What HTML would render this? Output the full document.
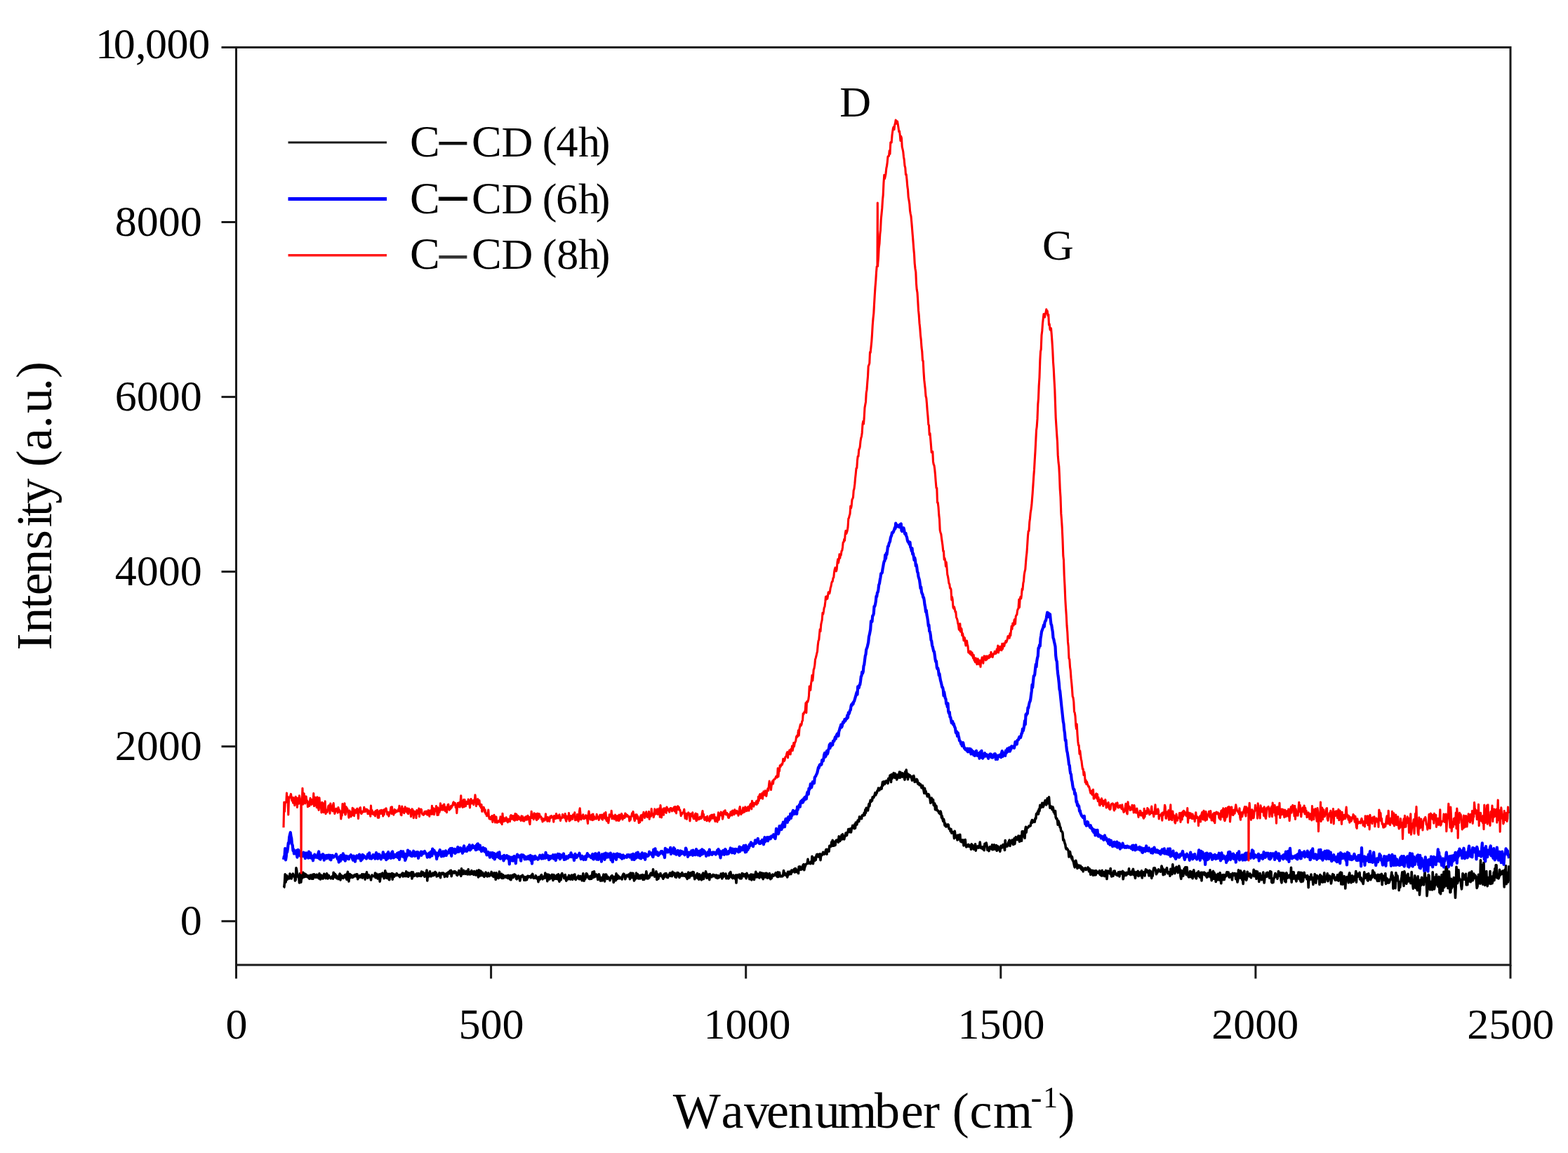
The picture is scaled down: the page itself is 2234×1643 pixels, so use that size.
<!DOCTYPE html>
<html><head><meta charset="utf-8"><title>Raman spectra</title>
<style>html,body{margin:0;padding:0;background:#fff;width:2234px;height:1643px;overflow:hidden}svg{display:block}text{font-kerning:none}</style>
</head><body>
<svg width="2234" height="1643" viewBox="0 0 2234 1643"><rect x="0" y="0" width="2234" height="1643" fill="#fff"/>
<path d="M404.0,1265.1 L404.8,1264.3 L405.5,1258.0 L406.2,1245.9 L407.0,1257.2 L407.8,1253.8 L408.5,1247.5 L409.2,1253.2 L410.0,1251.5 L410.8,1250.8 L411.5,1249.2 L412.2,1251.9 L413.0,1245.1 L413.8,1248.2 L414.5,1246.5 L415.2,1252.0 L416.0,1249.2 L416.8,1247.6 L417.5,1245.2 L418.2,1247.8 L419.0,1249.1 L419.8,1247.8 L420.5,1255.0 L421.2,1253.7 L422.0,1236.9 L422.8,1240.7 L423.5,1248.3 L424.2,1247.3 L425.0,1250.0 L425.8,1250.1 L426.5,1257.9 L427.2,1244.7 L428.0,1247.7 L428.8,1257.2 L429.5,1251.7 L430.2,1251.8 L431.0,1247.3 L431.8,1243.2 L432.5,1249.9 L433.2,1249.7 L434.0,1245.0 L434.8,1247.0 L435.5,1249.1 L436.2,1246.2 L437.0,1249.0 L437.8,1249.7 L438.5,1249.5 L439.2,1247.9 L440.0,1251.2 L440.8,1252.1 L441.5,1250.4 L442.2,1247.0 L443.0,1251.6 L443.8,1248.0 L444.5,1252.1 L445.2,1246.3 L446.0,1252.2 L446.8,1249.4 L447.5,1245.8 L448.2,1248.6 L449.0,1249.7 L449.8,1250.3 L450.5,1246.6 L451.2,1246.3 L452.0,1250.1 L452.8,1248.1 L453.5,1250.2 L454.2,1251.7 L455.0,1244.7 L455.8,1250.2 L456.5,1253.0 L457.2,1248.6 L458.0,1247.2 L458.8,1251.6 L459.5,1250.2 L460.2,1252.0 L461.0,1248.5 L461.8,1245.3 L462.5,1249.1 L463.2,1248.2 L464.0,1251.6 L464.8,1250.0 L465.5,1244.8 L466.2,1246.1 L467.0,1251.9 L467.8,1251.3 L468.5,1247.6 L469.2,1249.4 L470.0,1250.6 L470.8,1250.7 L471.5,1251.8 L472.2,1250.1 L473.0,1249.1 L473.8,1248.6 L474.5,1252.2 L475.2,1243.2 L476.0,1248.9 L476.8,1249.4 L477.5,1245.4 L478.2,1250.2 L479.0,1247.5 L479.8,1251.6 L480.5,1248.9 L481.2,1251.1 L482.0,1252.5 L482.8,1250.3 L483.5,1246.9 L484.2,1245.1 L485.0,1253.9 L485.8,1248.9 L486.5,1247.3 L487.2,1249.6 L488.0,1248.6 L488.8,1251.4 L489.5,1249.2 L490.2,1249.2 L491.0,1247.2 L491.8,1250.4 L492.5,1246.3 L493.2,1250.9 L494.0,1253.2 L494.8,1245.0 L495.5,1242.4 L496.2,1250.7 L497.0,1255.9 L497.8,1246.3 L498.5,1245.6 L499.2,1250.6 L500.0,1246.7 L500.8,1247.6 L501.5,1248.0 L502.2,1250.4 L503.0,1247.9 L503.8,1249.7 L504.5,1248.5 L505.2,1246.7 L506.0,1248.1 L506.8,1246.3 L507.5,1248.9 L508.2,1245.9 L509.0,1245.9 L509.8,1252.8 L510.5,1248.7 L511.2,1248.7 L512.0,1250.2 L512.8,1247.7 L513.5,1248.2 L514.2,1250.0 L515.0,1249.6 L515.8,1245.7 L516.5,1251.0 L517.2,1247.2 L518.0,1245.9 L518.8,1246.3 L519.5,1247.7 L520.2,1253.1 L521.0,1245.5 L521.8,1249.1 L522.5,1242.9 L523.2,1248.7 L524.0,1251.1 L524.8,1248.0 L525.5,1247.0 L526.2,1249.3 L527.0,1250.5 L527.8,1250.4 L528.5,1253.9 L529.2,1249.2 L530.0,1247.0 L530.8,1248.2 L531.5,1248.4 L532.2,1248.8 L533.0,1248.5 L533.8,1249.0 L534.5,1244.0 L535.2,1250.7 L536.0,1246.9 L536.8,1245.3 L537.5,1250.2 L538.2,1252.0 L539.0,1249.8 L539.8,1248.9 L540.5,1245.9 L541.2,1256.1 L542.0,1250.8 L542.8,1245.3 L543.5,1246.2 L544.2,1248.6 L545.0,1244.1 L545.8,1248.8 L546.5,1247.1 L547.2,1251.6 L548.0,1250.9 L548.8,1240.9 L549.5,1248.3 L550.2,1243.9 L551.0,1251.2 L551.8,1248.6 L552.5,1249.7 L553.2,1245.3 L554.0,1253.1 L554.8,1253.6 L555.5,1245.2 L556.2,1249.1 L557.0,1246.3 L557.8,1248.0 L558.5,1244.6 L559.2,1253.1 L560.0,1245.4 L560.8,1247.2 L561.5,1249.3 L562.2,1246.2 L563.0,1247.3 L563.8,1246.4 L564.5,1247.5 L565.2,1244.7 L566.0,1246.6 L566.8,1247.2 L567.5,1246.9 L568.2,1247.9 L569.0,1246.9 L569.8,1249.7 L570.5,1246.8 L571.2,1247.2 L572.0,1245.8 L572.8,1246.1 L573.5,1244.1 L574.2,1248.9 L575.0,1244.4 L575.8,1245.4 L576.5,1248.4 L577.2,1248.5 L578.0,1246.3 L578.8,1241.9 L579.5,1248.5 L580.2,1248.0 L581.0,1243.5 L581.8,1249.3 L582.5,1245.3 L583.2,1244.2 L584.0,1247.4 L584.8,1246.7 L585.5,1247.7 L586.2,1242.8 L587.0,1252.0 L587.8,1245.5 L588.5,1242.9 L589.2,1248.7 L590.0,1246.1 L590.8,1247.9 L591.5,1246.1 L592.2,1246.8 L593.0,1247.6 L593.8,1244.9 L594.5,1248.8 L595.2,1245.7 L596.0,1244.6 L596.8,1247.1 L597.5,1248.1 L598.2,1246.3 L599.0,1244.5 L599.8,1248.5 L600.5,1242.1 L601.2,1244.0 L602.0,1246.9 L602.8,1243.1 L603.5,1246.8 L604.2,1246.6 L605.0,1249.2 L605.8,1244.2 L606.5,1245.0 L607.2,1247.6 L608.0,1240.0 L608.8,1255.0 L609.5,1244.7 L610.2,1244.6 L611.0,1248.9 L611.8,1246.5 L612.5,1241.7 L613.2,1248.2 L614.0,1248.8 L614.8,1245.3 L615.5,1245.7 L616.2,1247.7 L617.0,1244.0 L617.8,1247.6 L618.5,1246.9 L619.2,1244.5 L620.0,1242.5 L620.8,1245.7 L621.5,1243.9 L622.2,1248.9 L623.0,1246.6 L623.8,1248.2 L624.5,1246.5 L625.2,1246.8 L626.0,1243.9 L626.8,1247.8 L627.5,1250.7 L628.2,1245.0 L629.0,1244.2 L629.8,1245.4 L630.5,1244.4 L631.2,1243.8 L632.0,1246.0 L632.8,1244.8 L633.5,1249.4 L634.2,1245.5 L635.0,1246.3 L635.8,1247.9 L636.5,1244.5 L637.2,1249.1 L638.0,1243.5 L638.8,1243.0 L639.5,1244.1 L640.2,1244.7 L641.0,1241.2 L641.8,1244.8 L642.5,1240.4 L643.2,1248.6 L644.0,1244.6 L644.8,1243.0 L645.5,1242.2 L646.2,1243.6 L647.0,1244.0 L647.8,1241.7 L648.5,1242.0 L649.2,1243.9 L650.0,1243.0 L650.8,1246.9 L651.5,1247.4 L652.2,1244.3 L653.0,1245.5 L653.8,1240.6 L654.5,1245.8 L655.2,1244.0 L656.0,1245.3 L656.8,1248.3 L657.5,1237.8 L658.2,1244.6 L659.0,1240.9 L659.8,1245.4 L660.5,1240.2 L661.2,1242.3 L662.0,1244.2 L662.8,1245.3 L663.5,1243.8 L664.2,1241.4 L665.0,1242.0 L665.8,1245.9 L666.5,1243.4 L667.2,1238.9 L668.0,1245.7 L668.8,1244.5 L669.5,1245.8 L670.2,1242.5 L671.0,1245.6 L671.8,1240.6 L672.5,1245.0 L673.2,1242.2 L674.0,1245.3 L674.8,1246.3 L675.5,1241.6 L676.2,1243.5 L677.0,1243.9 L677.8,1247.0 L678.5,1245.8 L679.2,1240.7 L680.0,1245.3 L680.8,1246.2 L681.5,1250.0 L682.2,1239.8 L683.0,1243.0 L683.8,1248.1 L684.5,1241.0 L685.2,1241.5 L686.0,1246.2 L686.8,1247.7 L687.5,1243.2 L688.2,1246.5 L689.0,1245.5 L689.8,1249.4 L690.5,1245.4 L691.2,1248.1 L692.0,1243.1 L692.8,1245.2 L693.5,1245.5 L694.2,1249.0 L695.0,1247.6 L695.8,1244.1 L696.5,1248.2 L697.2,1248.5 L698.0,1246.3 L698.8,1246.0 L699.5,1246.3 L700.2,1242.4 L701.0,1247.7 L701.8,1247.9 L702.5,1245.1 L703.2,1249.5 L704.0,1243.9 L704.8,1246.3 L705.5,1246.6 L706.2,1253.3 L707.0,1243.7 L707.8,1249.6 L708.5,1250.7 L709.2,1249.3 L710.0,1251.5 L710.8,1245.6 L711.5,1242.2 L712.2,1250.5 L713.0,1245.2 L713.8,1247.6 L714.5,1245.3 L715.2,1251.4 L716.0,1250.9 L716.8,1246.7 L717.5,1251.1 L718.2,1249.0 L719.0,1248.3 L719.8,1248.9 L720.5,1248.2 L721.2,1250.4 L722.0,1249.6 L722.8,1247.9 L723.5,1251.5 L724.2,1247.2 L725.0,1249.6 L725.8,1250.0 L726.5,1252.9 L727.2,1247.6 L728.0,1253.7 L728.8,1249.4 L729.5,1248.5 L730.2,1247.2 L731.0,1250.6 L731.8,1249.2 L732.5,1246.1 L733.2,1246.0 L734.0,1247.6 L734.8,1247.3 L735.5,1252.1 L736.2,1252.8 L737.0,1251.5 L737.8,1250.1 L738.5,1248.0 L739.2,1249.3 L740.0,1251.6 L740.8,1255.0 L741.5,1251.7 L742.2,1248.5 L743.0,1249.4 L743.8,1248.0 L744.5,1247.2 L745.2,1248.8 L746.0,1249.8 L746.8,1254.3 L747.5,1249.5 L748.2,1253.0 L749.0,1254.1 L749.8,1249.6 L750.5,1253.7 L751.2,1251.3 L752.0,1248.3 L752.8,1250.2 L753.5,1249.5 L754.2,1248.8 L755.0,1249.0 L755.8,1249.9 L756.5,1250.7 L757.2,1247.1 L758.0,1249.5 L758.8,1245.4 L759.5,1250.3 L760.2,1251.3 L761.0,1250.0 L761.8,1250.4 L762.5,1251.2 L763.2,1247.8 L764.0,1249.0 L764.8,1251.0 L765.5,1252.4 L766.2,1250.8 L767.0,1256.6 L767.8,1249.5 L768.5,1252.4 L769.2,1253.2 L770.0,1249.4 L770.8,1247.5 L771.5,1246.6 L772.2,1250.2 L773.0,1252.8 L773.8,1250.5 L774.5,1250.3 L775.2,1248.8 L776.0,1251.3 L776.8,1244.1 L777.5,1250.5 L778.2,1249.9 L779.0,1246.2 L779.8,1255.7 L780.5,1246.1 L781.2,1247.0 L782.0,1246.7 L782.8,1252.9 L783.5,1247.5 L784.2,1251.7 L785.0,1251.5 L785.8,1250.6 L786.5,1246.4 L787.2,1248.3 L788.0,1254.5 L788.8,1246.5 L789.5,1247.7 L790.2,1249.5 L791.0,1252.2 L791.8,1250.7 L792.5,1252.0 L793.2,1247.1 L794.0,1252.5 L794.8,1251.5 L795.5,1245.7 L796.2,1254.2 L797.0,1256.2 L797.8,1247.9 L798.5,1250.1 L799.2,1253.8 L800.0,1246.0 L800.8,1244.6 L801.5,1246.5 L802.2,1248.5 L803.0,1248.4 L803.8,1251.6 L804.5,1250.7 L805.2,1246.6 L806.0,1251.5 L806.8,1255.1 L807.5,1253.2 L808.2,1252.7 L809.0,1250.1 L809.8,1252.7 L810.5,1247.4 L811.2,1252.0 L812.0,1249.8 L812.8,1253.1 L813.5,1251.3 L814.2,1247.1 L815.0,1250.3 L815.8,1253.3 L816.5,1247.0 L817.2,1248.5 L818.0,1247.9 L818.8,1246.0 L819.5,1252.6 L820.2,1253.5 L821.0,1252.2 L821.8,1250.7 L822.5,1249.9 L823.2,1250.6 L824.0,1248.0 L824.8,1252.4 L825.5,1252.8 L826.2,1252.5 L827.0,1248.6 L827.8,1250.2 L828.5,1249.6 L829.2,1254.8 L830.0,1250.5 L830.8,1244.9 L831.5,1251.1 L832.2,1255.1 L833.0,1251.8 L833.8,1252.4 L834.5,1250.1 L835.2,1244.7 L836.0,1245.1 L836.8,1246.6 L837.5,1249.7 L838.2,1250.8 L839.0,1251.9 L839.8,1249.1 L840.5,1252.6 L841.2,1249.2 L842.0,1248.1 L842.8,1252.3 L843.5,1247.5 L844.2,1242.6 L845.0,1247.1 L845.8,1250.3 L846.5,1241.7 L847.2,1249.0 L848.0,1249.1 L848.8,1246.1 L849.5,1246.0 L850.2,1248.8 L851.0,1248.5 L851.8,1253.4 L852.5,1251.0 L853.2,1245.7 L854.0,1247.7 L854.8,1251.9 L855.5,1255.1 L856.2,1251.0 L857.0,1250.8 L857.8,1255.0 L858.5,1249.9 L859.2,1249.2 L860.0,1246.2 L860.8,1248.6 L861.5,1255.9 L862.2,1246.2 L863.0,1250.0 L863.8,1246.2 L864.5,1250.3 L865.2,1252.4 L866.0,1249.3 L866.8,1252.0 L867.5,1251.9 L868.2,1251.2 L869.0,1254.6 L869.8,1252.1 L870.5,1249.2 L871.2,1248.2 L872.0,1247.7 L872.8,1251.3 L873.5,1249.1 L874.2,1257.4 L875.0,1255.0 L875.8,1249.4 L876.5,1249.1 L877.2,1254.6 L878.0,1244.9 L878.8,1248.8 L879.5,1252.6 L880.2,1247.5 L881.0,1248.7 L881.8,1249.1 L882.5,1251.8 L883.2,1250.4 L884.0,1251.1 L884.8,1251.6 L885.5,1250.1 L886.2,1253.0 L887.0,1248.0 L887.8,1246.1 L888.5,1245.2 L889.2,1245.6 L890.0,1248.5 L890.8,1252.8 L891.5,1250.5 L892.2,1248.4 L893.0,1247.1 L893.8,1248.6 L894.5,1248.9 L895.2,1248.5 L896.0,1246.1 L896.8,1248.7 L897.5,1252.7 L898.2,1244.1 L899.0,1249.4 L899.8,1244.3 L900.5,1250.5 L901.2,1248.0 L902.0,1244.4 L902.8,1250.3 L903.5,1254.9 L904.2,1250.3 L905.0,1253.1 L905.8,1249.7 L906.5,1244.1 L907.2,1251.2 L908.0,1248.7 L908.8,1245.9 L909.5,1251.9 L910.2,1250.5 L911.0,1248.3 L911.8,1252.0 L912.5,1247.3 L913.2,1251.4 L914.0,1247.0 L914.8,1251.0 L915.5,1246.5 L916.2,1253.5 L917.0,1250.1 L917.8,1253.2 L918.5,1247.1 L919.2,1248.0 L920.0,1251.5 L920.8,1241.8 L921.5,1246.2 L922.2,1251.9 L923.0,1250.3 L923.8,1251.6 L924.5,1248.1 L925.2,1250.4 L926.0,1246.8 L926.8,1245.0 L927.5,1244.1 L928.2,1247.1 L929.0,1247.1 L929.8,1246.8 L930.5,1238.9 L931.2,1243.0 L932.0,1246.9 L932.8,1249.1 L933.5,1246.7 L934.2,1245.8 L935.0,1241.9 L935.8,1253.5 L936.5,1245.0 L937.2,1252.5 L938.0,1252.1 L938.8,1248.6 L939.5,1246.3 L940.2,1248.1 L941.0,1244.6 L941.8,1248.4 L942.5,1247.6 L943.2,1249.0 L944.0,1250.1 L944.8,1252.2 L945.5,1246.4 L946.2,1250.2 L947.0,1245.2 L947.8,1244.9 L948.5,1245.6 L949.2,1244.6 L950.0,1249.9 L950.8,1249.7 L951.5,1250.6 L952.2,1247.1 L953.0,1247.9 L953.8,1245.5 L954.5,1244.0 L955.2,1248.3 L956.0,1247.8 L956.8,1244.0 L957.5,1248.6 L958.2,1242.3 L959.0,1246.5 L959.8,1245.3 L960.5,1245.6 L961.2,1244.1 L962.0,1249.6 L962.8,1248.6 L963.5,1250.2 L964.2,1247.4 L965.0,1243.6 L965.8,1246.1 L966.5,1243.9 L967.2,1248.4 L968.0,1250.4 L968.8,1248.1 L969.5,1245.6 L970.2,1246.3 L971.0,1247.9 L971.8,1243.5 L972.5,1247.8 L973.2,1248.0 L974.0,1246.1 L974.8,1246.4 L975.5,1248.1 L976.2,1245.5 L977.0,1245.5 L977.8,1249.9 L978.5,1248.4 L979.2,1252.4 L980.0,1245.3 L980.8,1243.2 L981.5,1250.6 L982.2,1250.7 L983.0,1246.2 L983.8,1244.2 L984.5,1248.1 L985.2,1243.6 L986.0,1247.4 L986.8,1242.5 L987.5,1247.8 L988.2,1242.8 L989.0,1247.9 L989.8,1252.7 L990.5,1247.9 L991.2,1250.7 L992.0,1247.0 L992.8,1246.3 L993.5,1244.7 L994.2,1251.6 L995.0,1248.7 L995.8,1253.2 L996.5,1245.7 L997.2,1248.3 L998.0,1249.1 L998.8,1252.7 L999.5,1253.8 L1000.2,1247.1 L1001.0,1245.8 L1001.8,1244.2 L1002.5,1252.5 L1003.2,1248.6 L1004.0,1247.1 L1004.8,1248.7 L1005.5,1241.9 L1006.2,1244.2 L1007.0,1251.3 L1007.8,1249.9 L1008.5,1249.2 L1009.2,1246.1 L1010.0,1250.4 L1010.8,1253.6 L1011.5,1245.5 L1012.2,1248.8 L1013.0,1247.6 L1013.8,1249.7 L1014.5,1248.7 L1015.2,1248.3 L1016.0,1246.3 L1016.8,1248.6 L1017.5,1247.0 L1018.2,1248.2 L1019.0,1248.4 L1019.8,1250.4 L1020.5,1247.0 L1021.2,1247.7 L1022.0,1251.4 L1022.8,1247.9 L1023.5,1247.8 L1024.2,1250.8 L1025.0,1249.2 L1025.8,1248.7 L1026.5,1249.0 L1027.2,1245.1 L1028.0,1249.6 L1028.8,1251.9 L1029.5,1249.9 L1030.2,1244.2 L1031.0,1249.1 L1031.8,1245.9 L1032.5,1247.7 L1033.2,1248.6 L1034.0,1245.1 L1034.8,1251.8 L1035.5,1248.1 L1036.2,1250.3 L1037.0,1249.9 L1037.8,1251.8 L1038.5,1251.4 L1039.2,1244.2 L1040.0,1248.3 L1040.8,1242.5 L1041.5,1246.9 L1042.2,1250.0 L1043.0,1250.5 L1043.8,1251.5 L1044.5,1247.1 L1045.2,1248.9 L1046.0,1248.3 L1046.8,1251.4 L1047.5,1252.2 L1048.2,1247.1 L1049.0,1258.0 L1049.8,1248.0 L1050.5,1247.0 L1051.2,1249.6 L1052.0,1250.0 L1052.8,1249.4 L1053.5,1246.2 L1054.2,1251.8 L1055.0,1248.1 L1055.8,1252.0 L1056.5,1251.6 L1057.2,1244.6 L1058.0,1245.3 L1058.8,1245.3 L1059.5,1248.6 L1060.2,1248.1 L1061.0,1248.7 L1061.8,1245.8 L1062.5,1249.1 L1063.2,1251.7 L1064.0,1244.4 L1064.8,1247.4 L1065.5,1248.6 L1066.2,1247.6 L1067.0,1247.4 L1067.8,1252.6 L1068.5,1251.3 L1069.2,1250.2 L1070.0,1246.0 L1070.8,1253.9 L1071.5,1248.9 L1072.2,1246.4 L1073.0,1247.1 L1073.8,1246.7 L1074.5,1253.5 L1075.2,1248.5 L1076.0,1248.1 L1076.8,1242.3 L1077.5,1249.9 L1078.2,1245.2 L1079.0,1245.0 L1079.8,1249.6 L1080.5,1245.7 L1081.2,1250.2 L1082.0,1250.9 L1082.8,1243.3 L1083.5,1247.6 L1084.2,1243.8 L1085.0,1247.8 L1085.8,1250.4 L1086.5,1244.4 L1087.2,1252.7 L1088.0,1247.2 L1088.8,1244.9 L1089.5,1247.6 L1090.2,1250.0 L1091.0,1244.4 L1091.8,1248.0 L1092.5,1244.4 L1093.2,1251.1 L1094.0,1248.4 L1094.8,1246.8 L1095.5,1250.7 L1096.2,1244.6 L1097.0,1246.9 L1097.8,1252.8 L1098.5,1247.6 L1099.2,1251.5 L1100.0,1248.5 L1100.8,1246.1 L1101.5,1247.3 L1102.2,1248.1 L1103.0,1246.8 L1103.8,1245.7 L1104.5,1245.7 L1105.2,1243.8 L1106.0,1247.9 L1106.8,1248.6 L1107.5,1249.4 L1108.2,1242.7 L1109.0,1249.4 L1109.8,1247.1 L1110.5,1243.3 L1111.2,1247.2 L1112.0,1248.9 L1112.8,1248.1 L1113.5,1248.5 L1114.2,1248.9 L1115.0,1248.6 L1115.8,1246.1 L1116.5,1240.6 L1117.2,1243.9 L1118.0,1246.7 L1118.8,1244.4 L1119.5,1247.2 L1120.2,1247.4 L1121.0,1245.3 L1121.8,1249.9 L1122.5,1242.2 L1123.2,1247.0 L1124.0,1243.1 L1124.8,1242.1 L1125.5,1245.4 L1126.2,1242.0 L1127.0,1245.6 L1127.8,1240.0 L1128.5,1242.9 L1129.2,1240.3 L1130.0,1241.6 L1130.8,1240.9 L1131.5,1238.6 L1132.2,1242.9 L1133.0,1237.6 L1133.8,1237.9 L1134.5,1242.5 L1135.2,1242.3 L1136.0,1241.1 L1136.8,1239.9 L1137.5,1244.5 L1138.2,1235.0 L1139.0,1235.8 L1139.8,1234.8 L1140.5,1239.3 L1141.2,1237.3 L1142.0,1239.0 L1142.8,1238.2 L1143.5,1234.6 L1144.2,1232.6 L1145.0,1231.7 L1145.8,1239.7 L1146.5,1236.0 L1147.2,1234.5 L1148.0,1231.6 L1148.8,1231.5 L1149.5,1230.7 L1150.2,1230.3 L1151.0,1224.4 L1151.8,1230.1 L1152.5,1228.8 L1153.2,1230.1 L1154.0,1229.4 L1154.8,1230.7 L1155.5,1227.9 L1156.2,1229.6 L1157.0,1220.3 L1157.8,1223.7 L1158.5,1230.7 L1159.2,1222.4 L1160.0,1224.4 L1160.8,1226.5 L1161.5,1221.9 L1162.2,1225.6 L1163.0,1219.4 L1163.8,1217.6 L1164.5,1218.6 L1165.2,1217.3 L1166.0,1221.0 L1166.8,1219.7 L1167.5,1220.9 L1168.2,1216.7 L1169.0,1225.6 L1169.8,1218.1 L1170.5,1217.6 L1171.2,1218.4 L1172.0,1216.0 L1172.8,1214.4 L1173.5,1215.7 L1174.2,1217.3 L1175.0,1216.0 L1175.8,1216.2 L1176.5,1211.6 L1177.2,1210.4 L1178.0,1217.2 L1178.8,1210.6 L1179.5,1211.9 L1180.2,1212.0 L1181.0,1213.2 L1181.8,1205.2 L1182.5,1206.9 L1183.2,1206.4 L1184.0,1206.1 L1184.8,1199.9 L1185.5,1205.4 L1186.2,1197.4 L1187.0,1205.2 L1187.8,1205.2 L1188.5,1204.7 L1189.2,1199.3 L1190.0,1204.4 L1190.8,1198.9 L1191.5,1197.3 L1192.2,1197.3 L1193.0,1197.0 L1193.8,1199.1 L1194.5,1200.2 L1195.2,1191.8 L1196.0,1195.3 L1196.8,1198.4 L1197.5,1195.9 L1198.2,1196.1 L1199.0,1190.1 L1199.8,1196.0 L1200.5,1188.7 L1201.2,1192.6 L1202.0,1195.1 L1202.8,1195.8 L1203.5,1191.5 L1204.2,1191.8 L1205.0,1187.2 L1205.8,1186.8 L1206.5,1190.5 L1207.2,1186.7 L1208.0,1185.7 L1208.8,1181.6 L1209.5,1185.0 L1210.2,1185.6 L1211.0,1181.0 L1211.8,1181.1 L1212.5,1185.9 L1213.2,1181.4 L1214.0,1179.4 L1214.8,1176.4 L1215.5,1177.0 L1216.2,1177.2 L1217.0,1180.7 L1217.8,1174.6 L1218.5,1180.2 L1219.2,1172.1 L1220.0,1172.8 L1220.8,1175.1 L1221.5,1171.4 L1222.2,1169.0 L1223.0,1169.9 L1223.8,1170.6 L1224.5,1163.9 L1225.2,1166.9 L1226.0,1166.3 L1226.8,1164.6 L1227.5,1166.6 L1228.2,1162.1 L1229.0,1161.5 L1229.8,1161.4 L1230.5,1162.1 L1231.2,1158.3 L1232.0,1161.6 L1232.8,1153.9 L1233.5,1158.4 L1234.2,1151.3 L1235.0,1151.8 L1235.8,1151.8 L1236.5,1154.9 L1237.2,1150.4 L1238.0,1145.5 L1238.8,1148.7 L1239.5,1143.3 L1240.2,1140.4 L1241.0,1142.3 L1241.8,1140.0 L1242.5,1141.0 L1243.2,1135.8 L1244.0,1137.0 L1244.8,1136.5 L1245.5,1134.4 L1246.2,1132.5 L1247.0,1129.7 L1247.8,1132.9 L1248.5,1130.0 L1249.2,1130.0 L1250.0,1126.8 L1250.8,1126.8 L1251.5,1123.1 L1252.2,1125.1 L1253.0,1126.0 L1253.8,1123.3 L1254.5,1124.5 L1255.2,1122.1 L1256.0,1124.1 L1256.8,1119.1 L1257.5,1114.4 L1258.2,1119.1 L1259.0,1116.7 L1259.8,1113.7 L1260.5,1117.3 L1261.2,1115.5 L1262.0,1115.3 L1262.8,1112.6 L1263.5,1113.3 L1264.2,1112.8 L1265.0,1116.3 L1265.8,1109.2 L1266.5,1110.4 L1267.2,1110.9 L1268.0,1104.9 L1268.8,1104.7 L1269.5,1114.4 L1270.2,1103.5 L1271.0,1109.4 L1271.8,1105.3 L1272.5,1105.2 L1273.2,1101.6 L1274.0,1104.2 L1274.8,1108.5 L1275.5,1102.4 L1276.2,1107.5 L1277.0,1106.5 L1277.8,1110.9 L1278.5,1104.0 L1279.2,1108.4 L1280.0,1107.2 L1280.8,1103.8 L1281.5,1100.0 L1282.2,1108.3 L1283.0,1100.5 L1283.8,1102.8 L1284.5,1106.4 L1285.2,1107.0 L1286.0,1101.8 L1286.8,1104.0 L1287.5,1103.4 L1288.2,1107.4 L1289.0,1111.1 L1289.8,1099.6 L1290.5,1107.1 L1291.2,1097.1 L1292.0,1105.0 L1292.8,1102.2 L1293.5,1110.7 L1294.2,1106.0 L1295.0,1103.9 L1295.8,1104.7 L1296.5,1104.8 L1297.2,1107.1 L1298.0,1106.5 L1298.8,1109.2 L1299.5,1112.1 L1300.2,1110.4 L1301.0,1105.9 L1301.8,1105.5 L1302.5,1108.6 L1303.2,1114.2 L1304.0,1111.2 L1304.8,1111.0 L1305.5,1113.8 L1306.2,1110.4 L1307.0,1111.8 L1307.8,1117.0 L1308.5,1115.5 L1309.2,1115.9 L1310.0,1118.7 L1310.8,1117.1 L1311.5,1117.6 L1312.2,1119.0 L1313.0,1122.7 L1313.8,1122.1 L1314.5,1119.5 L1315.2,1122.8 L1316.0,1126.2 L1316.8,1130.4 L1317.5,1123.2 L1318.2,1128.1 L1319.0,1127.4 L1319.8,1131.3 L1320.5,1131.3 L1321.2,1135.0 L1322.0,1133.5 L1322.8,1131.7 L1323.5,1132.9 L1324.2,1136.6 L1325.0,1137.7 L1325.8,1144.3 L1326.5,1143.6 L1327.2,1137.1 L1328.0,1142.5 L1328.8,1139.2 L1329.5,1139.6 L1330.2,1147.3 L1331.0,1148.1 L1331.8,1145.1 L1332.5,1153.6 L1333.2,1147.8 L1334.0,1148.5 L1334.8,1154.7 L1335.5,1154.8 L1336.2,1155.0 L1337.0,1156.4 L1337.8,1158.4 L1338.5,1158.6 L1339.2,1159.6 L1340.0,1156.1 L1340.8,1158.7 L1341.5,1165.1 L1342.2,1162.7 L1343.0,1167.3 L1343.8,1170.3 L1344.5,1167.2 L1345.2,1170.1 L1346.0,1176.1 L1346.8,1173.5 L1347.5,1177.8 L1348.2,1178.0 L1349.0,1177.1 L1349.8,1175.8 L1350.5,1174.9 L1351.2,1175.3 L1352.0,1180.6 L1352.8,1181.6 L1353.5,1180.8 L1354.2,1184.6 L1355.0,1181.6 L1355.8,1187.1 L1356.5,1185.0 L1357.2,1185.6 L1358.0,1186.5 L1358.8,1187.0 L1359.5,1194.7 L1360.2,1184.3 L1361.0,1189.9 L1361.8,1193.5 L1362.5,1192.8 L1363.2,1190.8 L1364.0,1197.0 L1364.8,1190.1 L1365.5,1190.2 L1366.2,1196.0 L1367.0,1191.2 L1367.8,1189.3 L1368.5,1198.9 L1369.2,1199.2 L1370.0,1199.8 L1370.8,1197.1 L1371.5,1199.5 L1372.2,1197.0 L1373.0,1204.9 L1373.8,1202.9 L1374.5,1203.3 L1375.2,1196.5 L1376.0,1204.5 L1376.8,1206.8 L1377.5,1206.5 L1378.2,1205.8 L1379.0,1204.0 L1379.8,1203.4 L1380.5,1206.3 L1381.2,1206.0 L1382.0,1205.9 L1382.8,1204.7 L1383.5,1210.3 L1384.2,1202.7 L1385.0,1205.9 L1385.8,1204.5 L1386.5,1209.0 L1387.2,1210.1 L1388.0,1209.7 L1388.8,1208.5 L1389.5,1202.7 L1390.2,1212.2 L1391.0,1208.1 L1391.8,1206.4 L1392.5,1206.9 L1393.2,1205.9 L1394.0,1208.1 L1394.8,1207.9 L1395.5,1206.1 L1396.2,1200.1 L1397.0,1207.1 L1397.8,1208.6 L1398.5,1208.8 L1399.2,1207.0 L1400.0,1208.7 L1400.8,1210.3 L1401.5,1206.2 L1402.2,1211.6 L1403.0,1202.3 L1403.8,1204.2 L1404.5,1205.2 L1405.2,1201.1 L1406.0,1205.0 L1406.8,1211.2 L1407.5,1211.2 L1408.2,1208.1 L1409.0,1212.6 L1409.8,1208.6 L1410.5,1206.6 L1411.2,1208.6 L1412.0,1207.6 L1412.8,1210.0 L1413.5,1203.9 L1414.2,1210.7 L1415.0,1206.7 L1415.8,1210.3 L1416.5,1203.8 L1417.2,1206.8 L1418.0,1208.2 L1418.8,1210.4 L1419.5,1204.5 L1420.2,1212.3 L1421.0,1209.0 L1421.8,1206.1 L1422.5,1210.7 L1423.2,1207.6 L1424.0,1210.3 L1424.8,1213.3 L1425.5,1208.9 L1426.2,1205.2 L1427.0,1205.3 L1427.8,1207.8 L1428.5,1206.8 L1429.2,1203.5 L1430.0,1203.7 L1430.8,1207.1 L1431.5,1211.5 L1432.2,1197.5 L1433.0,1206.5 L1433.8,1203.6 L1434.5,1206.0 L1435.2,1206.0 L1436.0,1203.4 L1436.8,1200.2 L1437.5,1198.8 L1438.2,1197.2 L1439.0,1205.4 L1439.8,1201.1 L1440.5,1199.9 L1441.2,1200.2 L1442.0,1197.0 L1442.8,1201.1 L1443.5,1203.5 L1444.2,1202.7 L1445.0,1194.9 L1445.8,1202.6 L1446.5,1196.3 L1447.2,1192.8 L1448.0,1194.2 L1448.8,1194.5 L1449.5,1196.6 L1450.2,1193.2 L1451.0,1191.2 L1451.8,1194.0 L1452.5,1199.3 L1453.2,1191.4 L1454.0,1193.8 L1454.8,1192.0 L1455.5,1198.3 L1456.2,1184.9 L1457.0,1192.2 L1457.8,1184.8 L1458.5,1185.8 L1459.2,1186.2 L1460.0,1194.3 L1460.8,1182.4 L1461.5,1178.3 L1462.2,1186.1 L1463.0,1179.2 L1463.8,1179.9 L1464.5,1179.4 L1465.2,1178.8 L1466.0,1177.0 L1466.8,1177.2 L1467.5,1176.5 L1468.2,1176.8 L1469.0,1172.2 L1469.8,1170.3 L1470.5,1168.5 L1471.2,1172.1 L1472.0,1169.3 L1472.8,1170.0 L1473.5,1169.1 L1474.2,1171.3 L1475.0,1166.1 L1475.8,1166.5 L1476.5,1159.9 L1477.2,1159.0 L1478.0,1159.9 L1478.8,1156.1 L1479.5,1160.1 L1480.2,1153.1 L1481.0,1155.7 L1481.8,1147.4 L1482.5,1149.9 L1483.2,1150.7 L1484.0,1149.7 L1484.8,1144.3 L1485.5,1148.5 L1486.2,1149.8 L1487.0,1148.0 L1487.8,1143.5 L1488.5,1142.9 L1489.2,1140.6 L1490.0,1145.1 L1490.8,1146.9 L1491.5,1141.2 L1492.2,1137.8 L1493.0,1143.1 L1493.8,1144.8 L1494.5,1135.9 L1495.2,1144.6 L1496.0,1151.2 L1496.8,1148.7 L1497.5,1149.2 L1498.2,1150.3 L1499.0,1153.6 L1499.8,1149.7 L1500.5,1151.7 L1501.2,1156.9 L1502.0,1155.6 L1502.8,1159.9 L1503.5,1155.5 L1504.2,1164.6 L1505.0,1166.7 L1505.8,1166.4 L1506.5,1168.9 L1507.2,1175.2 L1508.0,1169.9 L1508.8,1172.7 L1509.5,1174.5 L1510.2,1178.6 L1511.0,1179.2 L1511.8,1184.3 L1512.5,1184.7 L1513.2,1184.9 L1514.0,1187.1 L1514.8,1197.2 L1515.5,1196.2 L1516.2,1198.2 L1517.0,1201.4 L1517.8,1203.5 L1518.5,1208.2 L1519.2,1209.9 L1520.0,1208.8 L1520.8,1210.1 L1521.5,1211.1 L1522.2,1212.3 L1523.0,1221.0 L1523.8,1215.7 L1524.5,1213.8 L1525.2,1218.1 L1526.0,1219.4 L1526.8,1223.5 L1527.5,1221.1 L1528.2,1226.0 L1529.0,1226.5 L1529.8,1229.8 L1530.5,1233.2 L1531.2,1235.9 L1532.0,1232.6 L1532.8,1226.3 L1533.5,1229.2 L1534.2,1231.7 L1535.0,1237.4 L1535.8,1234.2 L1536.5,1236.3 L1537.2,1233.0 L1538.0,1235.7 L1538.8,1236.6 L1539.5,1233.8 L1540.2,1237.7 L1541.0,1239.0 L1541.8,1236.0 L1542.5,1239.7 L1543.2,1241.8 L1544.0,1237.8 L1544.8,1238.0 L1545.5,1237.5 L1546.2,1237.0 L1547.0,1239.5 L1547.8,1238.2 L1548.5,1238.8 L1549.2,1237.9 L1550.0,1236.0 L1550.8,1238.0 L1551.5,1241.8 L1552.2,1237.9 L1553.0,1239.6 L1553.8,1246.3 L1554.5,1245.0 L1555.2,1240.2 L1556.0,1244.0 L1556.8,1240.6 L1557.5,1247.2 L1558.2,1241.1 L1559.0,1243.1 L1559.8,1246.8 L1560.5,1240.7 L1561.2,1246.8 L1562.0,1240.9 L1562.8,1244.0 L1563.5,1242.5 L1564.2,1243.2 L1565.0,1244.0 L1565.8,1243.4 L1566.5,1240.8 L1567.2,1246.2 L1568.0,1245.8 L1568.8,1247.5 L1569.5,1247.9 L1570.2,1240.2 L1571.0,1247.7 L1571.8,1247.8 L1572.5,1242.7 L1573.2,1247.2 L1574.0,1248.5 L1574.8,1242.8 L1575.5,1240.5 L1576.2,1243.4 L1577.0,1252.5 L1577.8,1245.2 L1578.5,1241.1 L1579.2,1243.9 L1580.0,1241.8 L1580.8,1243.6 L1581.5,1245.1 L1582.2,1237.5 L1583.0,1245.9 L1583.8,1249.0 L1584.5,1244.4 L1585.2,1243.9 L1586.0,1248.2 L1586.8,1241.4 L1587.5,1241.5 L1588.2,1241.1 L1589.0,1244.7 L1589.8,1246.3 L1590.5,1244.9 L1591.2,1246.8 L1592.0,1247.6 L1592.8,1246.7 L1593.5,1242.9 L1594.2,1244.5 L1595.0,1248.9 L1595.8,1242.2 L1596.5,1244.5 L1597.2,1244.1 L1598.0,1244.8 L1598.8,1242.1 L1599.5,1241.3 L1600.2,1252.8 L1601.0,1248.1 L1601.8,1243.2 L1602.5,1245.1 L1603.2,1247.3 L1604.0,1244.3 L1604.8,1247.1 L1605.5,1243.4 L1606.2,1244.2 L1607.0,1245.0 L1607.8,1243.9 L1608.5,1237.9 L1609.2,1245.3 L1610.0,1246.0 L1610.8,1246.6 L1611.5,1242.2 L1612.2,1246.1 L1613.0,1245.7 L1613.8,1239.8 L1614.5,1238.5 L1615.2,1246.4 L1616.0,1242.1 L1616.8,1248.0 L1617.5,1251.3 L1618.2,1243.2 L1619.0,1242.8 L1619.8,1244.8 L1620.5,1246.9 L1621.2,1241.4 L1622.0,1248.5 L1622.8,1247.8 L1623.5,1246.7 L1624.2,1243.0 L1625.0,1247.5 L1625.8,1247.2 L1626.5,1240.8 L1627.2,1251.0 L1628.0,1243.6 L1628.8,1245.6 L1629.5,1242.8 L1630.2,1245.6 L1631.0,1248.0 L1631.8,1241.7 L1632.5,1238.9 L1633.2,1242.7 L1634.0,1239.9 L1634.8,1241.5 L1635.5,1243.5 L1636.2,1243.6 L1637.0,1247.9 L1637.8,1240.2 L1638.5,1244.6 L1639.2,1241.6 L1640.0,1247.7 L1640.8,1251.4 L1641.5,1243.9 L1642.2,1248.4 L1643.0,1240.9 L1643.8,1237.1 L1644.5,1238.1 L1645.2,1236.9 L1646.0,1238.8 L1646.8,1241.1 L1647.5,1245.7 L1648.2,1244.1 L1649.0,1243.2 L1649.8,1240.0 L1650.5,1238.8 L1651.2,1241.3 L1652.0,1241.6 L1652.8,1241.9 L1653.5,1242.2 L1654.2,1240.4 L1655.0,1234.0 L1655.8,1236.7 L1656.5,1237.7 L1657.2,1246.6 L1658.0,1239.0 L1658.8,1242.9 L1659.5,1245.8 L1660.2,1241.7 L1661.0,1239.1 L1661.8,1239.5 L1662.5,1236.8 L1663.2,1241.7 L1664.0,1244.7 L1664.8,1242.7 L1665.5,1243.5 L1666.2,1243.3 L1667.0,1248.2 L1667.8,1238.4 L1668.5,1241.4 L1669.2,1243.5 L1670.0,1245.6 L1670.8,1231.9 L1671.5,1239.1 L1672.2,1240.4 L1673.0,1237.3 L1673.8,1244.6 L1674.5,1242.2 L1675.2,1240.0 L1676.0,1235.3 L1676.8,1236.6 L1677.5,1238.0 L1678.2,1243.6 L1679.0,1237.2 L1679.8,1234.0 L1680.5,1236.5 L1681.2,1239.9 L1682.0,1248.9 L1682.8,1252.3 L1683.5,1240.6 L1684.2,1246.4 L1685.0,1248.3 L1685.8,1248.0 L1686.5,1242.5 L1687.2,1237.8 L1688.0,1241.2 L1688.8,1235.7 L1689.5,1244.3 L1690.2,1246.6 L1691.0,1235.8 L1691.8,1243.5 L1692.5,1245.0 L1693.2,1249.1 L1694.0,1249.8 L1694.8,1247.5 L1695.5,1241.6 L1696.2,1243.1 L1697.0,1249.8 L1697.8,1242.4 L1698.5,1244.9 L1699.2,1251.8 L1700.0,1246.0 L1700.8,1239.9 L1701.5,1244.6 L1702.2,1248.6 L1703.0,1245.3 L1703.8,1251.2 L1704.5,1251.8 L1705.2,1243.8 L1706.0,1244.5 L1706.8,1246.3 L1707.5,1241.7 L1708.2,1248.5 L1709.0,1246.2 L1709.8,1250.3 L1710.5,1244.5 L1711.2,1243.3 L1712.0,1254.9 L1712.8,1243.3 L1713.5,1244.6 L1714.2,1244.0 L1715.0,1245.8 L1715.8,1243.2 L1716.5,1247.0 L1717.2,1244.2 L1718.0,1245.4 L1718.8,1248.7 L1719.5,1250.2 L1720.2,1249.2 L1721.0,1244.1 L1721.8,1249.0 L1722.5,1246.8 L1723.2,1246.8 L1724.0,1239.9 L1724.8,1250.2 L1725.5,1246.7 L1726.2,1254.7 L1727.0,1250.1 L1727.8,1242.5 L1728.5,1241.4 L1729.2,1252.3 L1730.0,1243.6 L1730.8,1250.4 L1731.5,1246.1 L1732.2,1256.5 L1733.0,1247.8 L1733.8,1254.0 L1734.5,1253.2 L1735.2,1245.4 L1736.0,1246.0 L1736.8,1253.9 L1737.5,1247.5 L1738.2,1243.7 L1739.0,1252.8 L1739.8,1258.8 L1740.5,1247.4 L1741.2,1253.7 L1742.0,1246.9 L1742.8,1253.6 L1743.5,1246.6 L1744.2,1253.5 L1745.0,1250.1 L1745.8,1246.9 L1746.5,1248.8 L1747.2,1245.4 L1748.0,1242.8 L1748.8,1243.1 L1749.5,1247.5 L1750.2,1243.1 L1751.0,1249.8 L1751.8,1250.2 L1752.5,1249.9 L1753.2,1245.7 L1754.0,1248.1 L1754.8,1247.8 L1755.5,1253.8 L1756.2,1244.3 L1757.0,1246.2 L1757.8,1246.9 L1758.5,1247.3 L1759.2,1244.6 L1760.0,1245.2 L1760.8,1252.5 L1761.5,1245.1 L1762.2,1252.0 L1763.0,1257.0 L1763.8,1253.7 L1764.5,1239.9 L1765.2,1251.4 L1766.0,1250.1 L1766.8,1250.4 L1767.5,1240.7 L1768.2,1251.4 L1769.0,1243.1 L1769.8,1253.8 L1770.5,1252.8 L1771.2,1259.5 L1772.0,1246.3 L1772.8,1241.2 L1773.5,1252.7 L1774.2,1252.0 L1775.0,1246.3 L1775.8,1254.2 L1776.5,1251.1 L1777.2,1242.2 L1778.0,1246.5 L1778.8,1246.0 L1779.5,1247.6 L1780.2,1248.9 L1781.0,1244.9 L1781.8,1247.2 L1782.5,1250.7 L1783.2,1247.7 L1784.0,1246.9 L1784.8,1246.7 L1785.5,1247.6 L1786.2,1239.4 L1787.0,1248.8 L1787.8,1243.4 L1788.5,1248.6 L1789.2,1241.4 L1790.0,1252.3 L1790.8,1249.2 L1791.5,1242.0 L1792.2,1249.3 L1793.0,1244.7 L1793.8,1256.4 L1794.5,1250.4 L1795.2,1244.6 L1796.0,1249.3 L1796.8,1248.1 L1797.5,1253.7 L1798.2,1249.9 L1799.0,1250.6 L1799.8,1243.1 L1800.5,1252.0 L1801.2,1258.0 L1802.0,1251.3 L1802.8,1248.2 L1803.5,1249.1 L1804.2,1244.0 L1805.0,1249.3 L1805.8,1243.3 L1806.5,1248.6 L1807.2,1246.7 L1808.0,1244.6 L1808.8,1251.2 L1809.5,1241.6 L1810.2,1248.3 L1811.0,1242.4 L1811.8,1257.1 L1812.5,1257.8 L1813.2,1252.6 L1814.0,1257.5 L1814.8,1251.4 L1815.5,1251.2 L1816.2,1246.7 L1817.0,1244.5 L1817.8,1249.3 L1818.5,1246.3 L1819.2,1246.7 L1820.0,1252.2 L1820.8,1248.2 L1821.5,1241.5 L1822.2,1247.9 L1823.0,1245.3 L1823.8,1247.5 L1824.5,1243.8 L1825.2,1254.6 L1826.0,1257.9 L1826.8,1243.8 L1827.5,1252.1 L1828.2,1251.9 L1829.0,1244.0 L1829.8,1249.6 L1830.5,1255.8 L1831.2,1253.2 L1832.0,1256.9 L1832.8,1243.7 L1833.5,1245.7 L1834.2,1250.7 L1835.0,1251.0 L1835.8,1249.4 L1836.5,1247.5 L1837.2,1247.4 L1838.0,1246.5 L1838.8,1251.6 L1839.5,1236.3 L1840.2,1257.1 L1841.0,1247.0 L1841.8,1242.7 L1842.5,1252.1 L1843.2,1242.9 L1844.0,1251.4 L1844.8,1247.7 L1845.5,1252.5 L1846.2,1253.4 L1847.0,1255.9 L1847.8,1247.3 L1848.5,1248.3 L1849.2,1249.7 L1850.0,1243.0 L1850.8,1252.7 L1851.5,1250.5 L1852.2,1243.4 L1853.0,1255.7 L1853.8,1256.5 L1854.5,1243.6 L1855.2,1252.7 L1856.0,1256.0 L1856.8,1254.1 L1857.5,1245.3 L1858.2,1243.4 L1859.0,1249.5 L1859.8,1247.7 L1860.5,1250.1 L1861.2,1249.7 L1862.0,1252.7 L1862.8,1247.5 L1863.5,1249.5 L1864.2,1264.6 L1865.0,1249.7 L1865.8,1253.9 L1866.5,1251.7 L1867.2,1251.4 L1868.0,1246.0 L1868.8,1253.0 L1869.5,1250.2 L1870.2,1254.4 L1871.0,1260.4 L1871.8,1251.4 L1872.5,1254.2 L1873.2,1245.6 L1874.0,1251.1 L1874.8,1258.1 L1875.5,1250.3 L1876.2,1247.5 L1877.0,1251.7 L1877.8,1249.8 L1878.5,1249.5 L1879.2,1248.9 L1880.0,1260.4 L1880.8,1246.5 L1881.5,1248.8 L1882.2,1248.0 L1883.0,1256.8 L1883.8,1249.5 L1884.5,1257.2 L1885.2,1251.7 L1886.0,1250.8 L1886.8,1243.8 L1887.5,1256.8 L1888.2,1253.5 L1889.0,1252.9 L1889.8,1250.4 L1890.5,1248.9 L1891.2,1244.8 L1892.0,1255.6 L1892.8,1252.3 L1893.5,1249.3 L1894.2,1248.0 L1895.0,1251.6 L1895.8,1250.6 L1896.5,1259.0 L1897.2,1254.8 L1898.0,1248.2 L1898.8,1245.7 L1899.5,1249.9 L1900.2,1246.6 L1901.0,1251.5 L1901.8,1253.1 L1902.5,1254.2 L1903.2,1253.1 L1904.0,1250.2 L1904.8,1254.0 L1905.5,1246.8 L1906.2,1250.7 L1907.0,1255.1 L1907.8,1252.5 L1908.5,1244.9 L1909.2,1245.5 L1910.0,1243.2 L1910.8,1259.9 L1911.5,1243.5 L1912.2,1250.4 L1913.0,1260.1 L1913.8,1256.4 L1914.5,1257.5 L1915.2,1248.6 L1916.0,1254.7 L1916.8,1266.0 L1917.5,1250.9 L1918.2,1253.1 L1919.0,1249.5 L1919.8,1250.9 L1920.5,1252.8 L1921.2,1257.8 L1922.0,1246.5 L1922.8,1243.9 L1923.5,1251.1 L1924.2,1251.9 L1925.0,1257.8 L1925.8,1254.4 L1926.5,1247.8 L1927.2,1253.6 L1928.0,1256.3 L1928.8,1252.2 L1929.5,1249.1 L1930.2,1254.1 L1931.0,1249.0 L1931.8,1241.5 L1932.5,1257.2 L1933.2,1244.3 L1934.0,1249.0 L1934.8,1249.1 L1935.5,1248.9 L1936.2,1249.2 L1937.0,1243.4 L1937.8,1253.1 L1938.5,1250.6 L1939.2,1250.7 L1940.0,1255.7 L1940.8,1255.9 L1941.5,1257.0 L1942.2,1259.5 L1943.0,1252.6 L1943.8,1242.8 L1944.5,1251.4 L1945.2,1250.4 L1946.0,1250.6 L1946.8,1247.3 L1947.5,1245.9 L1948.2,1254.2 L1949.0,1255.0 L1949.8,1244.7 L1950.5,1252.9 L1951.2,1249.4 L1952.0,1248.3 L1952.8,1253.6 L1953.5,1249.9 L1954.2,1247.4 L1955.0,1250.4 L1955.8,1240.3 L1956.5,1247.2 L1957.2,1247.9 L1958.0,1243.2 L1958.8,1251.0 L1959.5,1251.4 L1960.2,1247.1 L1961.0,1249.3 L1961.8,1253.5 L1962.5,1255.4 L1963.2,1246.4 L1964.0,1251.9 L1964.8,1255.4 L1965.5,1250.1 L1966.2,1246.5 L1967.0,1246.6 L1967.8,1248.8 L1968.5,1245.4 L1969.2,1260.6 L1970.0,1247.8 L1970.8,1252.6 L1971.5,1251.8 L1972.2,1254.1 L1973.0,1249.1 L1973.8,1244.7 L1974.5,1259.4 L1975.2,1251.0 L1976.0,1252.1 L1976.8,1252.6 L1977.5,1258.0 L1978.2,1255.7 L1979.0,1257.9 L1979.8,1256.3 L1980.5,1253.1 L1981.2,1253.7 L1982.0,1248.9 L1982.8,1243.0 L1983.5,1251.7 L1984.2,1247.7 L1985.0,1266.1 L1985.8,1261.4 L1986.5,1259.8 L1987.2,1250.5 L1988.0,1265.7 L1988.8,1243.7 L1989.5,1246.6 L1990.2,1249.2 L1991.0,1248.0 L1991.8,1255.4 L1992.5,1256.0 L1993.2,1268.6 L1994.0,1262.3 L1994.8,1264.4 L1995.5,1258.5 L1996.2,1254.2 L1997.0,1249.8 L1997.8,1242.9 L1998.5,1248.3 L1999.2,1252.6 L2000.0,1262.4 L2000.8,1241.7 L2001.5,1244.6 L2002.2,1258.2 L2003.0,1247.5 L2003.8,1259.3 L2004.5,1253.1 L2005.2,1250.3 L2006.0,1245.4 L2006.8,1256.0 L2007.5,1250.7 L2008.2,1251.7 L2009.0,1251.6 L2009.8,1258.6 L2010.5,1258.4 L2011.2,1242.6 L2012.0,1255.9 L2012.8,1260.7 L2013.5,1266.2 L2014.2,1264.0 L2015.0,1259.2 L2015.8,1247.8 L2016.5,1251.0 L2017.2,1265.4 L2018.0,1251.7 L2018.8,1266.4 L2019.5,1268.6 L2020.2,1248.8 L2021.0,1261.6 L2021.8,1256.9 L2022.5,1275.2 L2023.2,1265.1 L2024.0,1253.7 L2024.8,1261.5 L2025.5,1250.3 L2026.2,1256.9 L2027.0,1260.0 L2027.8,1259.5 L2028.5,1260.9 L2029.2,1250.6 L2030.0,1242.6 L2030.8,1255.4 L2031.5,1250.9 L2032.2,1252.6 L2033.0,1276.7 L2033.8,1268.5 L2034.5,1257.1 L2035.2,1246.5 L2036.0,1247.7 L2036.8,1261.8 L2037.5,1267.8 L2038.2,1256.3 L2039.0,1259.9 L2039.8,1261.0 L2040.5,1267.9 L2041.2,1242.9 L2042.0,1260.2 L2042.8,1262.4 L2043.5,1267.0 L2044.2,1262.3 L2045.0,1249.6 L2045.8,1254.0 L2046.5,1246.0 L2047.2,1260.6 L2048.0,1260.6 L2048.8,1263.3 L2049.5,1250.8 L2050.2,1249.3 L2051.0,1272.0 L2051.8,1260.5 L2052.5,1273.8 L2053.2,1262.7 L2054.0,1246.5 L2054.8,1265.7 L2055.5,1269.3 L2056.2,1254.9 L2057.0,1242.4 L2057.8,1264.3 L2058.5,1257.4 L2059.2,1260.9 L2060.0,1235.6 L2060.8,1262.2 L2061.5,1234.9 L2062.2,1250.8 L2063.0,1265.6 L2063.8,1242.5 L2064.5,1242.0 L2065.2,1254.0 L2066.0,1271.7 L2066.8,1271.3 L2067.5,1252.3 L2068.2,1265.8 L2069.0,1262.1 L2069.8,1259.3 L2070.5,1259.9 L2071.2,1250.6 L2072.0,1263.4 L2072.8,1265.5 L2073.5,1279.3 L2074.2,1264.0 L2075.0,1235.2 L2075.8,1245.6 L2076.5,1258.6 L2077.2,1256.1 L2078.0,1239.6 L2078.8,1254.1 L2079.5,1252.0 L2080.2,1254.5 L2081.0,1253.7 L2081.8,1262.4 L2082.5,1266.9 L2083.2,1260.1 L2084.0,1244.7 L2084.8,1246.6 L2085.5,1248.1 L2086.2,1253.1 L2087.0,1249.8 L2087.8,1250.3 L2088.5,1245.3 L2089.2,1261.0 L2090.0,1260.0 L2090.8,1260.7 L2091.5,1251.8 L2092.2,1256.2 L2093.0,1244.4 L2093.8,1243.4 L2094.5,1247.2 L2095.2,1256.7 L2096.0,1250.3 L2096.8,1241.7 L2097.5,1252.0 L2098.2,1254.7 L2099.0,1252.3 L2099.8,1245.1 L2100.5,1251.2 L2101.2,1247.0 L2102.0,1247.6 L2102.8,1249.5 L2103.5,1256.6 L2104.2,1265.5 L2105.0,1263.2 L2105.8,1255.1 L2106.5,1246.3 L2107.2,1246.9 L2108.0,1247.2 L2108.8,1259.2 L2109.5,1225.8 L2110.2,1251.4 L2111.0,1232.2 L2111.8,1249.0 L2112.5,1260.2 L2113.2,1241.1 L2114.0,1229.4 L2114.8,1259.7 L2115.5,1261.4 L2116.2,1252.8 L2117.0,1259.2 L2117.8,1241.6 L2118.5,1258.3 L2119.2,1262.7 L2120.0,1253.6 L2120.8,1250.5 L2121.5,1259.0 L2122.2,1257.6 L2123.0,1241.6 L2123.8,1259.4 L2124.5,1254.1 L2125.2,1249.1 L2126.0,1258.7 L2126.8,1255.5 L2127.5,1253.9 L2128.2,1243.1 L2129.0,1254.5 L2129.8,1237.9 L2130.5,1246.2 L2131.2,1232.8 L2132.0,1232.7 L2132.8,1250.9 L2133.5,1246.3 L2134.2,1247.7 L2135.0,1252.0 L2135.8,1249.8 L2136.5,1239.3 L2137.2,1247.4 L2138.0,1246.1 L2138.8,1242.2 L2139.5,1245.5 L2140.2,1243.5 L2141.0,1241.0 L2141.8,1243.6 L2142.5,1248.4 L2143.2,1263.9 L2144.0,1239.4 L2144.8,1250.7 L2145.5,1233.8 L2146.2,1259.7 L2147.0,1243.3 L2147.8,1247.3 L2148.5,1256.9 L2149.2,1254.4 L2150.0,1233.3" fill="none" stroke="#000" stroke-width="3.6" stroke-linejoin="round"/>
<path d="M404.0,1224.9 L404.8,1220.5 L405.5,1219.6 L406.2,1209.2 L407.0,1225.5 L407.8,1220.6 L408.5,1212.2 L409.2,1214.3 L410.0,1208.7 L410.8,1201.0 L411.5,1202.3 L412.2,1193.0 L413.0,1189.6 L413.8,1186.2 L414.5,1191.6 L415.2,1194.0 L416.0,1202.5 L416.8,1204.8 L417.5,1212.1 L418.2,1210.2 L419.0,1216.5 L419.8,1214.8 L420.5,1215.7 L421.2,1216.2 L422.0,1212.1 L422.8,1217.8 L423.5,1221.6 L424.2,1211.1 L425.0,1211.2 L425.8,1212.0 L426.5,1218.7 L427.2,1216.9 L428.0,1219.7 L428.8,1218.9 L429.5,1217.7 L430.2,1218.0 L431.0,1216.9 L431.8,1220.0 L432.5,1214.5 L433.2,1216.7 L434.0,1218.7 L434.8,1223.2 L435.5,1216.1 L436.2,1215.4 L437.0,1216.9 L437.8,1221.3 L438.5,1218.1 L439.2,1222.6 L440.0,1213.7 L440.8,1222.2 L441.5,1222.1 L442.2,1215.3 L443.0,1219.8 L443.8,1222.8 L444.5,1219.8 L445.2,1222.4 L446.0,1226.3 L446.8,1220.5 L447.5,1219.0 L448.2,1217.7 L449.0,1221.7 L449.8,1219.4 L450.5,1219.5 L451.2,1219.8 L452.0,1222.0 L452.8,1217.2 L453.5,1216.0 L454.2,1213.5 L455.0,1223.7 L455.8,1220.6 L456.5,1224.7 L457.2,1220.5 L458.0,1218.5 L458.8,1221.9 L459.5,1220.4 L460.2,1217.2 L461.0,1218.2 L461.8,1225.7 L462.5,1221.8 L463.2,1222.0 L464.0,1220.1 L464.8,1219.0 L465.5,1223.5 L466.2,1220.7 L467.0,1218.9 L467.8,1220.7 L468.5,1218.6 L469.2,1221.7 L470.0,1224.4 L470.8,1218.9 L471.5,1225.3 L472.2,1219.4 L473.0,1221.8 L473.8,1219.0 L474.5,1220.8 L475.2,1221.6 L476.0,1220.3 L476.8,1219.5 L477.5,1219.6 L478.2,1219.3 L479.0,1217.2 L479.8,1220.9 L480.5,1222.8 L481.2,1224.2 L482.0,1223.5 L482.8,1228.6 L483.5,1222.6 L484.2,1220.5 L485.0,1227.0 L485.8,1218.9 L486.5,1224.5 L487.2,1219.2 L488.0,1222.8 L488.8,1216.4 L489.5,1224.4 L490.2,1221.5 L491.0,1219.2 L491.8,1226.6 L492.5,1224.1 L493.2,1222.1 L494.0,1219.9 L494.8,1221.9 L495.5,1221.5 L496.2,1224.0 L497.0,1224.2 L497.8,1220.1 L498.5,1220.5 L499.2,1220.5 L500.0,1218.2 L500.8,1220.4 L501.5,1221.7 L502.2,1223.9 L503.0,1225.7 L503.8,1219.7 L504.5,1223.5 L505.2,1220.7 L506.0,1227.7 L506.8,1221.8 L507.5,1223.3 L508.2,1219.3 L509.0,1219.6 L509.8,1222.4 L510.5,1220.8 L511.2,1222.8 L512.0,1217.5 L512.8,1223.6 L513.5,1219.3 L514.2,1226.5 L515.0,1220.9 L515.8,1224.7 L516.5,1217.8 L517.2,1222.8 L518.0,1219.1 L518.8,1220.2 L519.5,1221.6 L520.2,1220.6 L521.0,1222.2 L521.8,1223.5 L522.5,1223.2 L523.2,1221.1 L524.0,1217.5 L524.8,1219.0 L525.5,1220.7 L526.2,1215.3 L527.0,1223.2 L527.8,1220.4 L528.5,1220.3 L529.2,1223.6 L530.0,1222.8 L530.8,1221.5 L531.5,1218.1 L532.2,1221.7 L533.0,1221.7 L533.8,1218.3 L534.5,1223.6 L535.2,1222.0 L536.0,1215.1 L536.8,1220.9 L537.5,1217.0 L538.2,1223.6 L539.0,1222.6 L539.8,1217.3 L540.5,1217.8 L541.2,1220.5 L542.0,1219.5 L542.8,1224.4 L543.5,1222.1 L544.2,1219.2 L545.0,1221.6 L545.8,1214.3 L546.5,1220.7 L547.2,1222.2 L548.0,1219.3 L548.8,1217.8 L549.5,1221.2 L550.2,1225.1 L551.0,1220.1 L551.8,1216.4 L552.5,1223.5 L553.2,1214.2 L554.0,1220.8 L554.8,1217.7 L555.5,1221.9 L556.2,1216.9 L557.0,1222.9 L557.8,1220.0 L558.5,1214.3 L559.2,1213.6 L560.0,1218.1 L560.8,1222.5 L561.5,1219.2 L562.2,1219.0 L563.0,1218.1 L563.8,1220.8 L564.5,1219.8 L565.2,1219.5 L566.0,1215.9 L566.8,1221.9 L567.5,1222.3 L568.2,1214.9 L569.0,1224.9 L569.8,1220.4 L570.5,1217.0 L571.2,1213.1 L572.0,1220.1 L572.8,1219.8 L573.5,1216.6 L574.2,1213.3 L575.0,1221.3 L575.8,1216.5 L576.5,1216.8 L577.2,1226.0 L578.0,1224.0 L578.8,1220.7 L579.5,1216.8 L580.2,1219.8 L581.0,1211.6 L581.8,1218.2 L582.5,1215.8 L583.2,1214.3 L584.0,1213.5 L584.8,1219.3 L585.5,1218.1 L586.2,1218.3 L587.0,1220.1 L587.8,1215.5 L588.5,1214.4 L589.2,1212.8 L590.0,1216.8 L590.8,1219.8 L591.5,1217.3 L592.2,1219.5 L593.0,1214.4 L593.8,1216.4 L594.5,1215.5 L595.2,1214.2 L596.0,1222.8 L596.8,1220.0 L597.5,1215.5 L598.2,1215.5 L599.0,1217.4 L599.8,1213.6 L600.5,1218.8 L601.2,1214.0 L602.0,1216.5 L602.8,1214.7 L603.5,1216.2 L604.2,1213.8 L605.0,1213.1 L605.8,1214.8 L606.5,1215.6 L607.2,1216.6 L608.0,1217.6 L608.8,1221.6 L609.5,1219.6 L610.2,1216.6 L611.0,1219.3 L611.8,1215.4 L612.5,1221.3 L613.2,1218.8 L614.0,1213.5 L614.8,1219.3 L615.5,1219.4 L616.2,1209.7 L617.0,1215.1 L617.8,1215.8 L618.5,1211.7 L619.2,1214.1 L620.0,1214.4 L620.8,1218.4 L621.5,1217.7 L622.2,1224.1 L623.0,1215.7 L623.8,1219.9 L624.5,1216.9 L625.2,1217.3 L626.0,1213.3 L626.8,1211.1 L627.5,1214.1 L628.2,1218.3 L629.0,1220.4 L629.8,1217.6 L630.5,1217.2 L631.2,1213.4 L632.0,1219.8 L632.8,1219.2 L633.5,1213.8 L634.2,1215.1 L635.0,1212.3 L635.8,1219.0 L636.5,1215.9 L637.2,1214.4 L638.0,1215.7 L638.8,1215.6 L639.5,1213.1 L640.2,1210.7 L641.0,1210.5 L641.8,1209.1 L642.5,1215.1 L643.2,1219.8 L644.0,1208.8 L644.8,1213.8 L645.5,1214.4 L646.2,1210.4 L647.0,1213.6 L647.8,1209.8 L648.5,1216.0 L649.2,1210.9 L650.0,1212.7 L650.8,1214.2 L651.5,1211.0 L652.2,1207.1 L653.0,1210.4 L653.8,1213.8 L654.5,1211.3 L655.2,1212.0 L656.0,1208.2 L656.8,1211.4 L657.5,1212.9 L658.2,1210.8 L659.0,1215.8 L659.8,1209.8 L660.5,1207.3 L661.2,1205.5 L662.0,1212.9 L662.8,1209.3 L663.5,1211.9 L664.2,1210.1 L665.0,1213.0 L665.8,1211.8 L666.5,1207.0 L667.2,1208.6 L668.0,1210.6 L668.8,1204.1 L669.5,1211.4 L670.2,1210.7 L671.0,1210.1 L671.8,1206.9 L672.5,1208.3 L673.2,1204.4 L674.0,1207.7 L674.8,1206.0 L675.5,1208.0 L676.2,1206.4 L677.0,1208.7 L677.8,1211.2 L678.5,1204.5 L679.2,1210.7 L680.0,1202.8 L680.8,1202.5 L681.5,1208.2 L682.2,1208.7 L683.0,1210.1 L683.8,1204.5 L684.5,1209.1 L685.2,1209.9 L686.0,1213.2 L686.8,1209.8 L687.5,1211.8 L688.2,1207.9 L689.0,1210.4 L689.8,1210.0 L690.5,1213.5 L691.2,1209.2 L692.0,1210.1 L692.8,1214.5 L693.5,1218.4 L694.2,1215.1 L695.0,1215.5 L695.8,1214.3 L696.5,1218.8 L697.2,1217.9 L698.0,1221.7 L698.8,1218.3 L699.5,1215.2 L700.2,1216.5 L701.0,1215.7 L701.8,1215.2 L702.5,1222.4 L703.2,1221.4 L704.0,1216.0 L704.8,1224.5 L705.5,1220.5 L706.2,1217.4 L707.0,1221.3 L707.8,1220.3 L708.5,1218.5 L709.2,1215.5 L710.0,1221.1 L710.8,1222.0 L711.5,1214.3 L712.2,1223.1 L713.0,1223.5 L713.8,1220.7 L714.5,1222.5 L715.2,1221.6 L716.0,1220.2 L716.8,1221.7 L717.5,1226.5 L718.2,1218.9 L719.0,1223.6 L719.8,1223.5 L720.5,1221.1 L721.2,1221.8 L722.0,1219.1 L722.8,1220.7 L723.5,1223.0 L724.2,1223.9 L725.0,1220.5 L725.8,1231.4 L726.5,1221.4 L727.2,1223.3 L728.0,1222.3 L728.8,1221.8 L729.5,1226.5 L730.2,1221.6 L731.0,1226.6 L731.8,1226.0 L732.5,1220.0 L733.2,1225.7 L734.0,1221.1 L734.8,1230.4 L735.5,1221.8 L736.2,1220.2 L737.0,1217.6 L737.8,1219.2 L738.5,1221.2 L739.2,1220.0 L740.0,1219.4 L740.8,1220.8 L741.5,1222.1 L742.2,1226.7 L743.0,1218.0 L743.8,1221.1 L744.5,1220.0 L745.2,1218.4 L746.0,1219.1 L746.8,1220.1 L747.5,1224.5 L748.2,1222.0 L749.0,1221.0 L749.8,1224.2 L750.5,1223.2 L751.2,1221.8 L752.0,1223.5 L752.8,1220.1 L753.5,1224.1 L754.2,1223.6 L755.0,1221.2 L755.8,1218.9 L756.5,1226.4 L757.2,1222.5 L758.0,1230.6 L758.8,1220.4 L759.5,1224.5 L760.2,1220.9 L761.0,1222.8 L761.8,1224.4 L762.5,1219.9 L763.2,1221.8 L764.0,1222.4 L764.8,1222.3 L765.5,1223.6 L766.2,1224.7 L767.0,1224.2 L767.8,1222.6 L768.5,1220.9 L769.2,1218.7 L770.0,1219.8 L770.8,1220.3 L771.5,1223.6 L772.2,1220.7 L773.0,1218.3 L773.8,1223.4 L774.5,1219.5 L775.2,1219.5 L776.0,1221.0 L776.8,1222.9 L777.5,1214.9 L778.2,1218.5 L779.0,1222.0 L779.8,1220.5 L780.5,1219.1 L781.2,1220.0 L782.0,1225.2 L782.8,1220.1 L783.5,1223.3 L784.2,1223.5 L785.0,1220.1 L785.8,1222.5 L786.5,1220.1 L787.2,1219.6 L788.0,1218.2 L788.8,1223.6 L789.5,1220.1 L790.2,1219.7 L791.0,1218.1 L791.8,1226.1 L792.5,1223.2 L793.2,1220.8 L794.0,1219.2 L794.8,1216.9 L795.5,1221.9 L796.2,1221.9 L797.0,1217.2 L797.8,1224.2 L798.5,1223.1 L799.2,1218.4 L800.0,1219.5 L800.8,1219.8 L801.5,1221.4 L802.2,1220.6 L803.0,1216.5 L803.8,1225.0 L804.5,1221.8 L805.2,1224.4 L806.0,1224.3 L806.8,1220.3 L807.5,1221.8 L808.2,1222.9 L809.0,1223.0 L809.8,1220.4 L810.5,1219.2 L811.2,1221.0 L812.0,1218.7 L812.8,1219.3 L813.5,1215.3 L814.2,1221.1 L815.0,1218.0 L815.8,1219.3 L816.5,1220.7 L817.2,1221.7 L818.0,1226.0 L818.8,1221.3 L819.5,1216.9 L820.2,1221.1 L821.0,1219.1 L821.8,1221.8 L822.5,1218.9 L823.2,1218.8 L824.0,1219.3 L824.8,1219.0 L825.5,1215.7 L826.2,1218.9 L827.0,1220.7 L827.8,1224.0 L828.5,1219.9 L829.2,1219.7 L830.0,1222.3 L830.8,1222.2 L831.5,1225.0 L832.2,1222.3 L833.0,1220.6 L833.8,1224.3 L834.5,1224.8 L835.2,1219.4 L836.0,1221.1 L836.8,1216.1 L837.5,1219.6 L838.2,1218.2 L839.0,1220.0 L839.8,1219.3 L840.5,1220.2 L841.2,1220.3 L842.0,1222.0 L842.8,1221.2 L843.5,1219.1 L844.2,1217.1 L845.0,1224.0 L845.8,1224.5 L846.5,1219.3 L847.2,1222.1 L848.0,1216.4 L848.8,1216.3 L849.5,1219.8 L850.2,1224.6 L851.0,1217.7 L851.8,1218.3 L852.5,1224.9 L853.2,1215.4 L854.0,1222.3 L854.8,1221.9 L855.5,1220.0 L856.2,1221.0 L857.0,1227.7 L857.8,1217.4 L858.5,1219.6 L859.2,1219.9 L860.0,1218.6 L860.8,1216.8 L861.5,1224.8 L862.2,1221.1 L863.0,1215.7 L863.8,1218.6 L864.5,1221.6 L865.2,1221.6 L866.0,1216.5 L866.8,1220.2 L867.5,1221.1 L868.2,1221.5 L869.0,1221.5 L869.8,1215.5 L870.5,1225.4 L871.2,1221.0 L872.0,1225.3 L872.8,1228.2 L873.5,1219.9 L874.2,1217.0 L875.0,1222.7 L875.8,1219.9 L876.5,1219.1 L877.2,1217.5 L878.0,1224.9 L878.8,1219.1 L879.5,1216.5 L880.2,1219.1 L881.0,1217.1 L881.8,1220.7 L882.5,1219.1 L883.2,1217.4 L884.0,1221.9 L884.8,1218.5 L885.5,1222.2 L886.2,1223.7 L887.0,1219.2 L887.8,1218.4 L888.5,1220.7 L889.2,1222.6 L890.0,1220.2 L890.8,1220.5 L891.5,1220.1 L892.2,1221.0 L893.0,1221.8 L893.8,1218.2 L894.5,1218.8 L895.2,1220.2 L896.0,1218.3 L896.8,1220.4 L897.5,1221.5 L898.2,1220.0 L899.0,1218.4 L899.8,1217.9 L900.5,1224.7 L901.2,1222.4 L902.0,1216.9 L902.8,1217.6 L903.5,1225.0 L904.2,1223.9 L905.0,1220.1 L905.8,1222.9 L906.5,1215.7 L907.2,1219.7 L908.0,1221.6 L908.8,1214.5 L909.5,1217.3 L910.2,1221.5 L911.0,1222.4 L911.8,1217.6 L912.5,1220.0 L913.2,1223.4 L914.0,1218.0 L914.8,1215.3 L915.5,1218.7 L916.2,1217.7 L917.0,1222.2 L917.8,1219.0 L918.5,1216.3 L919.2,1224.9 L920.0,1216.9 L920.8,1219.5 L921.5,1219.9 L922.2,1220.1 L923.0,1218.3 L923.8,1219.3 L924.5,1217.5 L925.2,1213.7 L926.0,1216.8 L926.8,1216.8 L927.5,1216.7 L928.2,1217.5 L929.0,1215.3 L929.8,1220.5 L930.5,1221.0 L931.2,1210.7 L932.0,1216.6 L932.8,1214.5 L933.5,1209.3 L934.2,1217.4 L935.0,1214.5 L935.8,1215.0 L936.5,1214.2 L937.2,1218.8 L938.0,1219.1 L938.8,1216.4 L939.5,1217.4 L940.2,1215.1 L941.0,1215.7 L941.8,1213.2 L942.5,1215.3 L943.2,1213.1 L944.0,1216.0 L944.8,1217.2 L945.5,1215.7 L946.2,1218.0 L947.0,1222.0 L947.8,1208.9 L948.5,1214.6 L949.2,1212.9 L950.0,1213.2 L950.8,1210.7 L951.5,1214.4 L952.2,1213.6 L953.0,1212.5 L953.8,1213.5 L954.5,1212.5 L955.2,1207.8 L956.0,1217.0 L956.8,1213.2 L957.5,1211.5 L958.2,1214.8 L959.0,1212.2 L959.8,1208.1 L960.5,1216.4 L961.2,1209.5 L962.0,1213.4 L962.8,1214.4 L963.5,1217.7 L964.2,1217.3 L965.0,1214.5 L965.8,1212.0 L966.5,1213.0 L967.2,1217.1 L968.0,1219.0 L968.8,1215.7 L969.5,1212.5 L970.2,1217.1 L971.0,1213.4 L971.8,1213.3 L972.5,1213.7 L973.2,1216.1 L974.0,1215.3 L974.8,1217.3 L975.5,1218.2 L976.2,1216.1 L977.0,1208.5 L977.8,1210.2 L978.5,1215.3 L979.2,1214.8 L980.0,1220.8 L980.8,1215.0 L981.5,1214.7 L982.2,1217.7 L983.0,1218.1 L983.8,1214.6 L984.5,1216.6 L985.2,1212.3 L986.0,1212.9 L986.8,1218.8 L987.5,1211.7 L988.2,1218.1 L989.0,1217.5 L989.8,1217.8 L990.5,1218.2 L991.2,1217.3 L992.0,1210.0 L992.8,1213.1 L993.5,1214.2 L994.2,1218.4 L995.0,1212.9 L995.8,1214.0 L996.5,1215.0 L997.2,1219.5 L998.0,1212.1 L998.8,1212.3 L999.5,1217.7 L1000.2,1210.3 L1001.0,1216.9 L1001.8,1214.8 L1002.5,1211.7 L1003.2,1214.8 L1004.0,1213.3 L1004.8,1216.4 L1005.5,1216.9 L1006.2,1219.9 L1007.0,1215.9 L1007.8,1216.1 L1008.5,1214.3 L1009.2,1215.8 L1010.0,1218.6 L1010.8,1210.6 L1011.5,1217.5 L1012.2,1214.3 L1013.0,1215.9 L1013.8,1216.5 L1014.5,1217.8 L1015.2,1216.2 L1016.0,1214.4 L1016.8,1216.3 L1017.5,1215.4 L1018.2,1214.8 L1019.0,1215.8 L1019.8,1217.5 L1020.5,1215.5 L1021.2,1215.5 L1022.0,1211.7 L1022.8,1214.7 L1023.5,1210.0 L1024.2,1216.8 L1025.0,1212.3 L1025.8,1218.1 L1026.5,1222.5 L1027.2,1213.6 L1028.0,1218.0 L1028.8,1215.5 L1029.5,1212.9 L1030.2,1212.1 L1031.0,1215.7 L1031.8,1217.8 L1032.5,1215.0 L1033.2,1210.0 L1034.0,1211.2 L1034.8,1213.2 L1035.5,1217.2 L1036.2,1214.4 L1037.0,1214.4 L1037.8,1216.6 L1038.5,1212.8 L1039.2,1213.0 L1040.0,1212.7 L1040.8,1208.5 L1041.5,1214.2 L1042.2,1213.9 L1043.0,1215.3 L1043.8,1209.6 L1044.5,1210.5 L1045.2,1214.9 L1046.0,1213.2 L1046.8,1215.8 L1047.5,1209.9 L1048.2,1212.6 L1049.0,1210.2 L1049.8,1212.6 L1050.5,1210.5 L1051.2,1213.0 L1052.0,1214.2 L1052.8,1213.0 L1053.5,1206.5 L1054.2,1213.3 L1055.0,1211.8 L1055.8,1207.8 L1056.5,1208.0 L1057.2,1210.0 L1058.0,1211.2 L1058.8,1208.3 L1059.5,1205.1 L1060.2,1209.6 L1061.0,1209.0 L1061.8,1214.4 L1062.5,1204.7 L1063.2,1214.0 L1064.0,1211.7 L1064.8,1207.7 L1065.5,1210.8 L1066.2,1206.5 L1067.0,1208.4 L1067.8,1203.7 L1068.5,1205.4 L1069.2,1202.3 L1070.0,1200.5 L1070.8,1203.4 L1071.5,1202.1 L1072.2,1204.8 L1073.0,1206.1 L1073.8,1202.2 L1074.5,1202.4 L1075.2,1202.4 L1076.0,1197.4 L1076.8,1201.8 L1077.5,1200.9 L1078.2,1200.4 L1079.0,1197.4 L1079.8,1194.9 L1080.5,1198.9 L1081.2,1199.9 L1082.0,1202.1 L1082.8,1201.3 L1083.5,1201.8 L1084.2,1198.9 L1085.0,1200.5 L1085.8,1196.9 L1086.5,1198.7 L1087.2,1199.2 L1088.0,1203.3 L1088.8,1197.1 L1089.5,1193.2 L1090.2,1199.5 L1091.0,1194.0 L1091.8,1195.6 L1092.5,1194.8 L1093.2,1193.1 L1094.0,1198.3 L1094.8,1196.3 L1095.5,1193.1 L1096.2,1194.5 L1097.0,1193.0 L1097.8,1195.3 L1098.5,1192.6 L1099.2,1191.3 L1100.0,1191.3 L1100.8,1191.3 L1101.5,1192.6 L1102.2,1189.2 L1103.0,1190.6 L1103.8,1191.3 L1104.5,1195.1 L1105.2,1190.8 L1106.0,1180.9 L1106.8,1186.0 L1107.5,1185.4 L1108.2,1186.2 L1109.0,1188.3 L1109.8,1185.4 L1110.5,1177.2 L1111.2,1182.4 L1112.0,1181.0 L1112.8,1180.7 L1113.5,1182.0 L1114.2,1175.1 L1115.0,1179.4 L1115.8,1171.7 L1116.5,1174.8 L1117.2,1174.6 L1118.0,1178.2 L1118.8,1170.1 L1119.5,1166.8 L1120.2,1171.6 L1121.0,1167.4 L1121.8,1171.9 L1122.5,1165.6 L1123.2,1164.3 L1124.0,1168.5 L1124.8,1164.9 L1125.5,1166.2 L1126.2,1159.5 L1127.0,1166.0 L1127.8,1159.8 L1128.5,1162.3 L1129.2,1157.1 L1130.0,1155.0 L1130.8,1157.2 L1131.5,1157.4 L1132.2,1159.8 L1133.0,1156.0 L1133.8,1156.0 L1134.5,1155.0 L1135.2,1159.9 L1136.0,1149.7 L1136.8,1153.7 L1137.5,1149.4 L1138.2,1149.5 L1139.0,1146.6 L1139.8,1149.7 L1140.5,1143.0 L1141.2,1141.8 L1142.0,1143.5 L1142.8,1140.2 L1143.5,1143.6 L1144.2,1143.0 L1145.0,1138.0 L1145.8,1140.5 L1146.5,1136.0 L1147.2,1136.3 L1148.0,1135.3 L1148.8,1138.5 L1149.5,1132.9 L1150.2,1129.4 L1151.0,1128.1 L1151.8,1131.7 L1152.5,1123.5 L1153.2,1124.8 L1154.0,1123.5 L1154.8,1117.1 L1155.5,1120.2 L1156.2,1122.1 L1157.0,1118.6 L1157.8,1114.2 L1158.5,1116.3 L1159.2,1114.2 L1160.0,1116.1 L1160.8,1107.8 L1161.5,1106.8 L1162.2,1106.1 L1163.0,1103.9 L1163.8,1102.7 L1164.5,1100.5 L1165.2,1097.3 L1166.0,1093.4 L1166.8,1094.2 L1167.5,1090.5 L1168.2,1089.6 L1169.0,1089.1 L1169.8,1090.0 L1170.5,1089.2 L1171.2,1083.1 L1172.0,1084.7 L1172.8,1084.4 L1173.5,1080.9 L1174.2,1075.6 L1175.0,1073.0 L1175.8,1078.5 L1176.5,1077.4 L1177.2,1074.5 L1178.0,1070.0 L1178.8,1074.5 L1179.5,1072.6 L1180.2,1068.3 L1181.0,1066.5 L1181.8,1061.1 L1182.5,1066.2 L1183.2,1059.3 L1184.0,1063.4 L1184.8,1062.2 L1185.5,1059.4 L1186.2,1061.6 L1187.0,1055.8 L1187.8,1056.6 L1188.5,1055.8 L1189.2,1053.1 L1190.0,1050.2 L1190.8,1052.8 L1191.5,1049.5 L1192.2,1046.8 L1193.0,1045.5 L1193.8,1045.0 L1194.5,1048.8 L1195.2,1042.4 L1196.0,1040.3 L1196.8,1037.1 L1197.5,1035.5 L1198.2,1032.7 L1199.0,1036.5 L1199.8,1034.7 L1200.5,1031.0 L1201.2,1028.6 L1202.0,1030.0 L1202.8,1028.2 L1203.5,1025.0 L1204.2,1027.5 L1205.0,1025.7 L1205.8,1023.8 L1206.5,1024.2 L1207.2,1019.4 L1208.0,1022.6 L1208.8,1015.4 L1209.5,1017.3 L1210.2,1015.9 L1211.0,1012.1 L1211.8,1011.8 L1212.5,1006.2 L1213.2,1003.9 L1214.0,1005.1 L1214.8,1002.0 L1215.5,1003.2 L1216.2,1000.0 L1217.0,999.3 L1217.8,996.6 L1218.5,994.2 L1219.2,991.9 L1220.0,988.6 L1220.8,986.1 L1221.5,989.7 L1222.2,978.4 L1223.0,979.7 L1223.8,980.0 L1224.5,976.1 L1225.2,975.8 L1226.0,971.0 L1226.8,964.0 L1227.5,963.2 L1228.2,957.5 L1229.0,959.7 L1229.8,957.1 L1230.5,949.0 L1231.2,947.4 L1232.0,941.1 L1232.8,934.5 L1233.5,932.6 L1234.2,925.7 L1235.0,923.8 L1235.8,921.3 L1236.5,918.2 L1237.2,915.2 L1238.0,907.2 L1238.8,904.3 L1239.5,900.7 L1240.2,897.0 L1241.0,885.2 L1241.8,886.2 L1242.5,885.9 L1243.2,877.6 L1244.0,876.9 L1244.8,874.3 L1245.5,864.0 L1246.2,864.1 L1247.0,861.3 L1247.8,856.9 L1248.5,849.5 L1249.2,850.1 L1250.0,844.2 L1250.8,843.7 L1251.5,839.2 L1252.2,833.3 L1253.0,831.5 L1253.8,826.0 L1254.5,822.6 L1255.2,817.2 L1256.0,817.0 L1256.8,816.1 L1257.5,811.1 L1258.2,807.4 L1259.0,802.7 L1259.8,799.6 L1260.5,799.3 L1261.2,790.9 L1262.0,796.0 L1262.8,788.0 L1263.5,790.2 L1264.2,785.0 L1265.0,778.6 L1265.8,778.6 L1266.5,775.0 L1267.2,773.1 L1268.0,771.7 L1268.8,766.6 L1269.5,764.5 L1270.2,763.0 L1271.0,758.8 L1271.8,759.4 L1272.5,758.6 L1273.2,756.9 L1274.0,755.0 L1274.8,752.0 L1275.5,753.4 L1276.2,745.6 L1277.0,748.5 L1277.8,747.9 L1278.5,750.4 L1279.2,749.8 L1280.0,750.2 L1280.8,748.7 L1281.5,751.3 L1282.2,747.3 L1283.0,750.6 L1283.8,746.3 L1284.5,756.2 L1285.2,757.0 L1286.0,753.1 L1286.8,753.8 L1287.5,752.3 L1288.2,755.0 L1289.0,760.4 L1289.8,761.3 L1290.5,759.9 L1291.2,763.8 L1292.0,765.2 L1292.8,769.6 L1293.5,771.9 L1294.2,771.6 L1295.0,774.1 L1295.8,775.7 L1296.5,772.6 L1297.2,779.7 L1298.0,781.0 L1298.8,785.0 L1299.5,781.2 L1300.2,789.5 L1301.0,788.7 L1301.8,793.4 L1302.5,798.2 L1303.2,794.8 L1304.0,798.1 L1304.8,806.4 L1305.5,804.5 L1306.2,808.0 L1307.0,814.8 L1307.8,816.1 L1308.5,821.7 L1309.2,823.9 L1310.0,826.5 L1310.8,832.2 L1311.5,838.3 L1312.2,836.4 L1313.0,843.5 L1313.8,846.0 L1314.5,847.0 L1315.2,851.2 L1316.0,851.5 L1316.8,855.9 L1317.5,861.7 L1318.2,864.8 L1319.0,871.8 L1319.8,869.8 L1320.5,876.2 L1321.2,879.5 L1322.0,884.7 L1322.8,891.9 L1323.5,890.6 L1324.2,899.5 L1325.0,900.3 L1325.8,905.0 L1326.5,912.1 L1327.2,913.1 L1328.0,919.3 L1328.8,921.8 L1329.5,924.9 L1330.2,928.1 L1331.0,928.5 L1331.8,934.1 L1332.5,939.5 L1333.2,942.8 L1334.0,942.2 L1334.8,951.1 L1335.5,953.2 L1336.2,952.0 L1337.0,955.6 L1337.8,962.2 L1338.5,959.9 L1339.2,965.2 L1340.0,969.7 L1340.8,972.4 L1341.5,975.4 L1342.2,979.2 L1343.0,979.3 L1343.8,982.8 L1344.5,991.3 L1345.2,986.1 L1346.0,991.0 L1346.8,995.0 L1347.5,996.0 L1348.2,1003.0 L1349.0,1003.1 L1349.8,1007.4 L1350.5,1002.4 L1351.2,1013.8 L1352.0,1016.4 L1352.8,1014.6 L1353.5,1021.9 L1354.2,1022.0 L1355.0,1025.9 L1355.8,1030.2 L1356.5,1028.5 L1357.2,1028.0 L1358.0,1032.3 L1358.8,1031.2 L1359.5,1034.1 L1360.2,1035.9 L1361.0,1037.8 L1361.8,1043.9 L1362.5,1044.9 L1363.2,1042.6 L1364.0,1049.0 L1364.8,1044.2 L1365.5,1048.2 L1366.2,1050.9 L1367.0,1055.5 L1367.8,1056.0 L1368.5,1056.8 L1369.2,1060.1 L1370.0,1060.1 L1370.8,1062.9 L1371.5,1059.2 L1372.2,1058.3 L1373.0,1062.3 L1373.8,1066.1 L1374.5,1065.7 L1375.2,1068.0 L1376.0,1068.3 L1376.8,1068.5 L1377.5,1069.7 L1378.2,1066.7 L1379.0,1071.3 L1379.8,1067.0 L1380.5,1069.4 L1381.2,1066.9 L1382.0,1071.7 L1382.8,1067.4 L1383.5,1074.5 L1384.2,1068.6 L1385.0,1072.6 L1385.8,1072.1 L1386.5,1070.7 L1387.2,1075.9 L1388.0,1072.3 L1388.8,1076.9 L1389.5,1071.5 L1390.2,1072.3 L1391.0,1069.8 L1391.8,1075.8 L1392.5,1076.8 L1393.2,1075.4 L1394.0,1074.7 L1394.8,1073.1 L1395.5,1080.7 L1396.2,1077.2 L1397.0,1071.4 L1397.8,1075.0 L1398.5,1069.9 L1399.2,1079.5 L1400.0,1080.5 L1400.8,1079.4 L1401.5,1076.1 L1402.2,1074.9 L1403.0,1073.2 L1403.8,1077.7 L1404.5,1074.9 L1405.2,1075.8 L1406.0,1075.3 L1406.8,1076.1 L1407.5,1078.9 L1408.2,1080.8 L1409.0,1077.3 L1409.8,1077.1 L1410.5,1074.6 L1411.2,1074.4 L1412.0,1074.8 L1412.8,1079.3 L1413.5,1077.9 L1414.2,1079.5 L1415.0,1078.3 L1415.8,1076.5 L1416.5,1074.6 L1417.2,1076.6 L1418.0,1074.2 L1418.8,1082.0 L1419.5,1078.1 L1420.2,1076.6 L1421.0,1081.9 L1421.8,1076.5 L1422.5,1078.5 L1423.2,1076.6 L1424.0,1077.6 L1424.8,1075.7 L1425.5,1077.4 L1426.2,1079.2 L1427.0,1072.8 L1427.8,1070.2 L1428.5,1078.0 L1429.2,1074.8 L1430.0,1076.0 L1430.8,1072.9 L1431.5,1076.6 L1432.2,1076.8 L1433.0,1069.5 L1433.8,1073.1 L1434.5,1069.7 L1435.2,1066.9 L1436.0,1069.3 L1436.8,1070.7 L1437.5,1065.8 L1438.2,1065.4 L1439.0,1070.6 L1439.8,1067.3 L1440.5,1067.5 L1441.2,1063.4 L1442.0,1063.8 L1442.8,1064.9 L1443.5,1064.3 L1444.2,1063.4 L1445.0,1065.9 L1445.8,1061.8 L1446.5,1057.1 L1447.2,1057.6 L1448.0,1058.5 L1448.8,1060.5 L1449.5,1054.9 L1450.2,1054.5 L1451.0,1054.1 L1451.8,1051.3 L1452.5,1049.8 L1453.2,1049.8 L1454.0,1051.2 L1454.8,1048.5 L1455.5,1045.0 L1456.2,1044.6 L1457.0,1038.6 L1457.8,1041.4 L1458.5,1038.2 L1459.2,1034.5 L1460.0,1027.2 L1460.8,1032.5 L1461.5,1018.2 L1462.2,1019.4 L1463.0,1016.3 L1463.8,1016.7 L1464.5,1008.4 L1465.2,1009.0 L1466.0,1004.7 L1466.8,1000.8 L1467.5,999.6 L1468.2,996.9 L1469.0,990.5 L1469.8,984.7 L1470.5,975.7 L1471.2,979.7 L1472.0,971.2 L1472.8,963.1 L1473.5,963.1 L1474.2,961.5 L1475.0,953.4 L1475.8,946.7 L1476.5,950.2 L1477.2,942.4 L1478.0,937.6 L1478.8,934.9 L1479.5,923.4 L1480.2,923.8 L1481.0,919.2 L1481.8,920.5 L1482.5,909.9 L1483.2,906.0 L1484.0,900.3 L1484.8,898.0 L1485.5,896.1 L1486.2,894.3 L1487.0,890.7 L1487.8,893.1 L1488.5,887.1 L1489.2,885.0 L1490.0,884.3 L1490.8,880.6 L1491.5,876.3 L1492.2,872.7 L1493.0,876.2 L1493.8,873.5 L1494.5,879.1 L1495.2,876.1 L1496.0,875.2 L1496.8,883.4 L1497.5,889.4 L1498.2,890.6 L1499.0,895.9 L1499.8,900.5 L1500.5,908.9 L1501.2,910.5 L1502.0,914.5 L1502.8,918.0 L1503.5,921.2 L1504.2,934.3 L1505.0,940.4 L1505.8,942.7 L1506.5,953.4 L1507.2,960.2 L1508.0,965.9 L1508.8,973.2 L1509.5,982.4 L1510.2,984.6 L1511.0,992.7 L1511.8,1000.3 L1512.5,1007.1 L1513.2,1013.3 L1514.0,1020.9 L1514.8,1028.2 L1515.5,1031.4 L1516.2,1039.9 L1517.0,1044.6 L1517.8,1055.2 L1518.5,1054.3 L1519.2,1062.4 L1520.0,1069.7 L1520.8,1072.7 L1521.5,1077.7 L1522.2,1082.3 L1523.0,1089.2 L1523.8,1090.7 L1524.5,1097.7 L1525.2,1102.2 L1526.0,1103.4 L1526.8,1111.4 L1527.5,1113.6 L1528.2,1118.9 L1529.0,1123.4 L1529.8,1125.4 L1530.5,1125.0 L1531.2,1131.4 L1532.0,1130.0 L1532.8,1134.7 L1533.5,1142.9 L1534.2,1141.8 L1535.0,1147.8 L1535.8,1146.4 L1536.5,1149.2 L1537.2,1148.9 L1538.0,1155.7 L1538.8,1155.2 L1539.5,1158.9 L1540.2,1160.3 L1541.0,1162.2 L1541.8,1163.3 L1542.5,1163.9 L1543.2,1165.2 L1544.0,1164.9 L1544.8,1162.8 L1545.5,1169.7 L1546.2,1174.2 L1547.0,1172.9 L1547.8,1176.6 L1548.5,1173.3 L1549.2,1170.9 L1550.0,1171.7 L1550.8,1176.5 L1551.5,1176.4 L1552.2,1176.1 L1553.0,1179.0 L1553.8,1176.2 L1554.5,1180.1 L1555.2,1179.1 L1556.0,1180.9 L1556.8,1184.0 L1557.5,1181.8 L1558.2,1186.0 L1559.0,1186.6 L1559.8,1182.7 L1560.5,1190.3 L1561.2,1183.1 L1562.0,1186.3 L1562.8,1188.9 L1563.5,1182.8 L1564.2,1190.9 L1565.0,1191.7 L1565.8,1189.5 L1566.5,1191.0 L1567.2,1191.4 L1568.0,1191.0 L1568.8,1194.4 L1569.5,1191.7 L1570.2,1192.9 L1571.0,1194.3 L1571.8,1195.8 L1572.5,1196.9 L1573.2,1191.5 L1574.0,1190.6 L1574.8,1195.4 L1575.5,1196.0 L1576.2,1194.1 L1577.0,1197.7 L1577.8,1198.9 L1578.5,1198.7 L1579.2,1202.1 L1580.0,1196.3 L1580.8,1199.1 L1581.5,1203.9 L1582.2,1201.4 L1583.0,1197.7 L1583.8,1201.1 L1584.5,1203.7 L1585.2,1206.2 L1586.0,1203.2 L1586.8,1204.7 L1587.5,1199.8 L1588.2,1202.1 L1589.0,1205.8 L1589.8,1201.0 L1590.5,1203.4 L1591.2,1199.5 L1592.0,1207.6 L1592.8,1204.1 L1593.5,1206.0 L1594.2,1201.4 L1595.0,1202.0 L1595.8,1209.6 L1596.5,1204.8 L1597.2,1204.5 L1598.0,1207.2 L1598.8,1207.4 L1599.5,1201.7 L1600.2,1204.1 L1601.0,1206.7 L1601.8,1206.8 L1602.5,1207.7 L1603.2,1206.0 L1604.0,1206.5 L1604.8,1207.8 L1605.5,1205.7 L1606.2,1205.5 L1607.0,1206.3 L1607.8,1207.7 L1608.5,1207.4 L1609.2,1206.7 L1610.0,1207.4 L1610.8,1208.0 L1611.5,1208.9 L1612.2,1209.1 L1613.0,1205.2 L1613.8,1210.8 L1614.5,1204.6 L1615.2,1209.9 L1616.0,1207.0 L1616.8,1210.1 L1617.5,1211.4 L1618.2,1204.3 L1619.0,1210.4 L1619.8,1209.7 L1620.5,1208.0 L1621.2,1210.1 L1622.0,1208.1 L1622.8,1209.7 L1623.5,1206.8 L1624.2,1211.5 L1625.0,1211.1 L1625.8,1211.6 L1626.5,1208.2 L1627.2,1214.5 L1628.0,1215.0 L1628.8,1209.9 L1629.5,1209.1 L1630.2,1209.3 L1631.0,1212.2 L1631.8,1213.2 L1632.5,1208.7 L1633.2,1205.5 L1634.0,1212.0 L1634.8,1210.9 L1635.5,1211.5 L1636.2,1212.6 L1637.0,1208.4 L1637.8,1211.6 L1638.5,1210.8 L1639.2,1212.7 L1640.0,1215.1 L1640.8,1211.9 L1641.5,1209.7 L1642.2,1215.6 L1643.0,1214.2 L1643.8,1211.8 L1644.5,1207.5 L1645.2,1210.2 L1646.0,1213.2 L1646.8,1214.4 L1647.5,1211.5 L1648.2,1214.4 L1649.0,1211.5 L1649.8,1212.2 L1650.5,1215.0 L1651.2,1212.9 L1652.0,1214.2 L1652.8,1216.4 L1653.5,1217.3 L1654.2,1212.4 L1655.0,1213.5 L1655.8,1210.5 L1656.5,1210.7 L1657.2,1215.5 L1658.0,1213.2 L1658.8,1209.4 L1659.5,1216.5 L1660.2,1212.6 L1661.0,1214.3 L1661.8,1216.6 L1662.5,1216.7 L1663.2,1215.4 L1664.0,1209.7 L1664.8,1217.6 L1665.5,1214.2 L1666.2,1211.8 L1667.0,1209.5 L1667.8,1220.5 L1668.5,1217.0 L1669.2,1217.1 L1670.0,1218.8 L1670.8,1216.8 L1671.5,1212.6 L1672.2,1219.4 L1673.0,1220.6 L1673.8,1219.2 L1674.5,1222.6 L1675.2,1223.9 L1676.0,1215.5 L1676.8,1216.7 L1677.5,1221.1 L1678.2,1219.0 L1679.0,1219.2 L1679.8,1221.7 L1680.5,1221.2 L1681.2,1217.5 L1682.0,1219.4 L1682.8,1216.8 L1683.5,1218.6 L1684.2,1215.7 L1685.0,1212.9 L1685.8,1217.9 L1686.5,1217.6 L1687.2,1222.6 L1688.0,1225.0 L1688.8,1219.9 L1689.5,1221.4 L1690.2,1217.7 L1691.0,1216.8 L1691.8,1219.0 L1692.5,1219.0 L1693.2,1221.1 L1694.0,1220.5 L1694.8,1225.8 L1695.5,1219.4 L1696.2,1214.5 L1697.0,1220.7 L1697.8,1218.0 L1698.5,1221.0 L1699.2,1224.3 L1700.0,1218.1 L1700.8,1220.2 L1701.5,1222.3 L1702.2,1217.2 L1703.0,1221.3 L1703.8,1222.5 L1704.5,1223.5 L1705.2,1224.5 L1706.0,1222.6 L1706.8,1222.1 L1707.5,1215.8 L1708.2,1211.3 L1709.0,1217.3 L1709.8,1225.8 L1710.5,1221.2 L1711.2,1212.8 L1712.0,1219.3 L1712.8,1222.1 L1713.5,1214.3 L1714.2,1222.9 L1715.0,1216.8 L1715.8,1224.6 L1716.5,1221.0 L1717.2,1232.0 L1718.0,1216.2 L1718.8,1222.0 L1719.5,1215.7 L1720.2,1225.1 L1721.0,1221.4 L1721.8,1224.3 L1722.5,1221.3 L1723.2,1216.7 L1724.0,1218.6 L1724.8,1216.5 L1725.5,1217.2 L1726.2,1221.5 L1727.0,1224.8 L1727.8,1224.1 L1728.5,1222.8 L1729.2,1218.9 L1730.0,1222.8 L1730.8,1217.8 L1731.5,1221.7 L1732.2,1224.0 L1733.0,1220.2 L1733.8,1219.2 L1734.5,1219.3 L1735.2,1223.1 L1736.0,1219.7 L1736.8,1215.7 L1737.5,1219.3 L1738.2,1217.0 L1739.0,1226.4 L1739.8,1220.9 L1740.5,1215.4 L1741.2,1221.8 L1742.0,1223.5 L1742.8,1222.2 L1743.5,1219.5 L1744.2,1221.3 L1745.0,1221.8 L1745.8,1224.5 L1746.5,1222.1 L1747.2,1229.1 L1748.0,1219.9 L1748.8,1226.4 L1749.5,1220.8 L1750.2,1214.3 L1751.0,1216.3 L1751.8,1213.9 L1752.5,1214.2 L1753.2,1225.1 L1754.0,1218.2 L1754.8,1222.9 L1755.5,1217.3 L1756.2,1220.5 L1757.0,1216.6 L1757.8,1223.8 L1758.5,1219.6 L1759.2,1218.8 L1760.0,1219.9 L1760.8,1228.7 L1761.5,1222.2 L1762.2,1223.6 L1763.0,1215.8 L1763.8,1218.0 L1764.5,1221.5 L1765.2,1213.4 L1766.0,1225.5 L1766.8,1221.4 L1767.5,1220.3 L1768.2,1219.6 L1769.0,1219.5 L1769.8,1218.4 L1770.5,1225.6 L1771.2,1222.9 L1772.0,1225.0 L1772.8,1219.1 L1773.5,1216.9 L1774.2,1225.5 L1775.0,1215.6 L1775.8,1217.9 L1776.5,1223.0 L1777.2,1224.4 L1778.0,1215.1 L1778.8,1219.1 L1779.5,1220.3 L1780.2,1219.7 L1781.0,1216.8 L1781.8,1222.8 L1782.5,1218.1 L1783.2,1219.2 L1784.0,1211.4 L1784.8,1219.7 L1785.5,1212.6 L1786.2,1222.8 L1787.0,1222.0 L1787.8,1218.1 L1788.5,1220.7 L1789.2,1220.5 L1790.0,1219.5 L1790.8,1221.4 L1791.5,1219.5 L1792.2,1218.2 L1793.0,1216.9 L1793.8,1226.6 L1794.5,1220.8 L1795.2,1219.9 L1796.0,1222.8 L1796.8,1218.5 L1797.5,1218.5 L1798.2,1222.6 L1799.0,1224.0 L1799.8,1222.6 L1800.5,1214.1 L1801.2,1220.2 L1802.0,1219.9 L1802.8,1221.8 L1803.5,1216.5 L1804.2,1215.8 L1805.0,1219.5 L1805.8,1216.4 L1806.5,1215.7 L1807.2,1219.7 L1808.0,1223.6 L1808.8,1220.5 L1809.5,1224.4 L1810.2,1216.0 L1811.0,1222.8 L1811.8,1219.9 L1812.5,1216.5 L1813.2,1218.3 L1814.0,1216.5 L1814.8,1219.1 L1815.5,1217.0 L1816.2,1225.0 L1817.0,1218.5 L1817.8,1214.3 L1818.5,1219.2 L1819.2,1221.5 L1820.0,1218.7 L1820.8,1223.4 L1821.5,1216.3 L1822.2,1216.5 L1823.0,1226.5 L1823.8,1220.0 L1824.5,1222.1 L1825.2,1222.0 L1826.0,1222.3 L1826.8,1220.1 L1827.5,1219.2 L1828.2,1224.3 L1829.0,1218.0 L1829.8,1220.4 L1830.5,1222.7 L1831.2,1218.4 L1832.0,1213.7 L1832.8,1221.8 L1833.5,1224.4 L1834.2,1221.0 L1835.0,1213.2 L1835.8,1222.6 L1836.5,1228.0 L1837.2,1213.7 L1838.0,1208.9 L1838.8,1219.0 L1839.5,1220.3 L1840.2,1223.2 L1841.0,1223.3 L1841.8,1220.4 L1842.5,1222.2 L1843.2,1221.4 L1844.0,1220.5 L1844.8,1219.8 L1845.5,1219.4 L1846.2,1222.9 L1847.0,1221.7 L1847.8,1218.2 L1848.5,1224.5 L1849.2,1217.0 L1850.0,1219.0 L1850.8,1220.6 L1851.5,1212.2 L1852.2,1218.4 L1853.0,1223.5 L1853.8,1223.3 L1854.5,1215.1 L1855.2,1216.6 L1856.0,1215.6 L1856.8,1219.0 L1857.5,1219.7 L1858.2,1213.4 L1859.0,1221.3 L1859.8,1220.3 L1860.5,1219.7 L1861.2,1217.2 L1862.0,1219.2 L1862.8,1212.7 L1863.5,1221.0 L1864.2,1220.9 L1865.0,1219.6 L1865.8,1215.1 L1866.5,1225.2 L1867.2,1224.7 L1868.0,1212.3 L1868.8,1221.7 L1869.5,1220.6 L1870.2,1209.4 L1871.0,1222.1 L1871.8,1222.7 L1872.5,1223.0 L1873.2,1220.7 L1874.0,1217.3 L1874.8,1217.9 L1875.5,1222.1 L1876.2,1224.8 L1877.0,1218.0 L1877.8,1218.9 L1878.5,1222.9 L1879.2,1211.1 L1880.0,1221.9 L1880.8,1219.1 L1881.5,1210.9 L1882.2,1223.2 L1883.0,1216.2 L1883.8,1223.3 L1884.5,1225.7 L1885.2,1214.9 L1886.0,1215.1 L1886.8,1220.0 L1887.5,1212.8 L1888.2,1223.0 L1889.0,1220.8 L1889.8,1224.1 L1890.5,1212.4 L1891.2,1220.9 L1892.0,1222.0 L1892.8,1212.6 L1893.5,1223.8 L1894.2,1214.3 L1895.0,1220.8 L1895.8,1214.6 L1896.5,1223.3 L1897.2,1227.2 L1898.0,1220.3 L1898.8,1220.2 L1899.5,1225.5 L1900.2,1218.2 L1901.0,1220.3 L1901.8,1223.5 L1902.5,1221.9 L1903.2,1226.7 L1904.0,1225.2 L1904.8,1228.2 L1905.5,1220.1 L1906.2,1224.9 L1907.0,1216.8 L1907.8,1224.1 L1908.5,1227.6 L1909.2,1230.2 L1910.0,1215.1 L1910.8,1219.7 L1911.5,1223.4 L1912.2,1216.8 L1913.0,1222.8 L1913.8,1222.8 L1914.5,1218.5 L1915.2,1218.3 L1916.0,1216.8 L1916.8,1222.0 L1917.5,1226.0 L1918.2,1222.0 L1919.0,1232.5 L1919.8,1214.6 L1920.5,1218.5 L1921.2,1223.8 L1922.0,1216.2 L1922.8,1222.5 L1923.5,1224.5 L1924.2,1221.9 L1925.0,1220.3 L1925.8,1225.2 L1926.5,1223.1 L1927.2,1224.4 L1928.0,1223.8 L1928.8,1218.7 L1929.5,1216.9 L1930.2,1220.0 L1931.0,1222.5 L1931.8,1221.0 L1932.5,1225.8 L1933.2,1223.0 L1934.0,1226.1 L1934.8,1222.5 L1935.5,1219.0 L1936.2,1225.7 L1937.0,1224.3 L1937.8,1218.7 L1938.5,1220.6 L1939.2,1234.3 L1940.0,1208.1 L1940.8,1227.4 L1941.5,1222.9 L1942.2,1222.4 L1943.0,1221.5 L1943.8,1220.6 L1944.5,1233.0 L1945.2,1221.1 L1946.0,1221.7 L1946.8,1226.5 L1947.5,1224.8 L1948.2,1222.4 L1949.0,1222.0 L1949.8,1217.6 L1950.5,1228.0 L1951.2,1218.9 L1952.0,1213.1 L1952.8,1228.1 L1953.5,1226.9 L1954.2,1225.2 L1955.0,1221.5 L1955.8,1228.9 L1956.5,1219.2 L1957.2,1214.5 L1958.0,1224.7 L1958.8,1227.5 L1959.5,1226.8 L1960.2,1233.1 L1961.0,1227.8 L1961.8,1223.3 L1962.5,1223.5 L1963.2,1228.2 L1964.0,1224.2 L1964.8,1223.9 L1965.5,1216.9 L1966.2,1223.3 L1967.0,1219.1 L1967.8,1225.8 L1968.5,1225.4 L1969.2,1228.0 L1970.0,1232.7 L1970.8,1224.2 L1971.5,1231.4 L1972.2,1220.2 L1973.0,1225.9 L1973.8,1229.4 L1974.5,1233.9 L1975.2,1220.6 L1976.0,1224.4 L1976.8,1226.2 L1977.5,1225.2 L1978.2,1221.5 L1979.0,1218.6 L1979.8,1220.5 L1980.5,1225.6 L1981.2,1220.1 L1982.0,1233.8 L1982.8,1231.5 L1983.5,1217.8 L1984.2,1224.1 L1985.0,1232.1 L1985.8,1232.9 L1986.5,1231.6 L1987.2,1219.8 L1988.0,1224.8 L1988.8,1232.9 L1989.5,1227.3 L1990.2,1224.5 L1991.0,1229.5 L1991.8,1232.2 L1992.5,1227.8 L1993.2,1228.4 L1994.0,1233.2 L1994.8,1224.0 L1995.5,1221.9 L1996.2,1231.9 L1997.0,1220.1 L1997.8,1230.5 L1998.5,1223.0 L1999.2,1232.7 L2000.0,1220.2 L2000.8,1234.7 L2001.5,1229.4 L2002.2,1225.8 L2003.0,1222.4 L2003.8,1226.8 L2004.5,1222.1 L2005.2,1220.5 L2006.0,1234.6 L2006.8,1231.7 L2007.5,1235.6 L2008.2,1219.7 L2009.0,1216.0 L2009.8,1218.3 L2010.5,1232.2 L2011.2,1233.2 L2012.0,1216.7 L2012.8,1234.6 L2013.5,1225.5 L2014.2,1220.9 L2015.0,1227.8 L2015.8,1231.9 L2016.5,1227.0 L2017.2,1227.3 L2018.0,1223.2 L2018.8,1219.6 L2019.5,1226.1 L2020.2,1218.4 L2021.0,1232.3 L2021.8,1223.3 L2022.5,1236.7 L2023.2,1218.8 L2024.0,1237.4 L2024.8,1223.2 L2025.5,1223.2 L2026.2,1230.5 L2027.0,1234.3 L2027.8,1228.5 L2028.5,1226.6 L2029.2,1241.2 L2030.0,1232.0 L2030.8,1221.4 L2031.5,1227.2 L2032.2,1239.4 L2033.0,1231.0 L2033.8,1234.1 L2034.5,1241.6 L2035.2,1225.3 L2036.0,1231.3 L2036.8,1224.8 L2037.5,1228.9 L2038.2,1232.3 L2039.0,1220.7 L2039.8,1229.9 L2040.5,1229.9 L2041.2,1235.5 L2042.0,1225.2 L2042.8,1221.0 L2043.5,1231.3 L2044.2,1221.7 L2045.0,1229.8 L2045.8,1232.0 L2046.5,1222.9 L2047.2,1227.5 L2048.0,1221.7 L2048.8,1210.3 L2049.5,1218.7 L2050.2,1214.6 L2051.0,1227.5 L2051.8,1220.5 L2052.5,1226.1 L2053.2,1226.4 L2054.0,1233.1 L2054.8,1224.1 L2055.5,1223.5 L2056.2,1228.9 L2057.0,1235.6 L2057.8,1224.8 L2058.5,1227.1 L2059.2,1223.6 L2060.0,1220.1 L2060.8,1214.6 L2061.5,1223.4 L2062.2,1222.0 L2063.0,1221.8 L2063.8,1235.4 L2064.5,1220.7 L2065.2,1224.6 L2066.0,1220.1 L2066.8,1229.3 L2067.5,1219.9 L2068.2,1232.9 L2069.0,1219.5 L2069.8,1225.7 L2070.5,1226.9 L2071.2,1218.8 L2072.0,1225.3 L2072.8,1220.1 L2073.5,1214.8 L2074.2,1215.1 L2075.0,1221.1 L2075.8,1229.8 L2076.5,1215.5 L2077.2,1221.7 L2078.0,1213.0 L2078.8,1219.4 L2079.5,1209.5 L2080.2,1212.5 L2081.0,1217.2 L2081.8,1212.4 L2082.5,1215.2 L2083.2,1223.0 L2084.0,1215.8 L2084.8,1212.0 L2085.5,1208.7 L2086.2,1213.0 L2087.0,1223.3 L2087.8,1215.6 L2088.5,1215.1 L2089.2,1220.5 L2090.0,1221.2 L2090.8,1222.2 L2091.5,1213.7 L2092.2,1210.3 L2093.0,1205.6 L2093.8,1211.7 L2094.5,1213.6 L2095.2,1220.5 L2096.0,1217.9 L2096.8,1212.4 L2097.5,1221.4 L2098.2,1208.1 L2099.0,1209.4 L2099.8,1208.6 L2100.5,1209.2 L2101.2,1214.4 L2102.0,1210.7 L2102.8,1211.2 L2103.5,1224.3 L2104.2,1206.9 L2105.0,1209.5 L2105.8,1214.5 L2106.5,1218.7 L2107.2,1219.0 L2108.0,1214.3 L2108.8,1213.7 L2109.5,1214.3 L2110.2,1220.6 L2111.0,1210.3 L2111.8,1201.4 L2112.5,1217.1 L2113.2,1208.7 L2114.0,1215.6 L2114.8,1224.6 L2115.5,1216.6 L2116.2,1227.4 L2117.0,1206.1 L2117.8,1217.5 L2118.5,1218.5 L2119.2,1221.2 L2120.0,1211.5 L2120.8,1217.1 L2121.5,1216.8 L2122.2,1216.7 L2123.0,1207.6 L2123.8,1205.4 L2124.5,1219.5 L2125.2,1218.3 L2126.0,1216.4 L2126.8,1220.2 L2127.5,1222.9 L2128.2,1209.0 L2129.0,1221.1 L2129.8,1225.5 L2130.5,1222.7 L2131.2,1220.0 L2132.0,1220.8 L2132.8,1207.5 L2133.5,1213.4 L2134.2,1222.8 L2135.0,1225.7 L2135.8,1219.4 L2136.5,1213.8 L2137.2,1215.8 L2138.0,1221.9 L2138.8,1229.2 L2139.5,1221.6 L2140.2,1213.5 L2141.0,1220.7 L2141.8,1219.6 L2142.5,1231.8 L2143.2,1220.6 L2144.0,1217.2 L2144.8,1216.5 L2145.5,1209.4 L2146.2,1210.5 L2147.0,1214.2 L2147.8,1212.1 L2148.5,1218.4 L2149.2,1217.9 L2150.0,1223.1" fill="none" stroke="#0000ff" stroke-width="4.2" stroke-linejoin="round"/>
<path d="M404.0,1179.3 L404.8,1143.1 L405.5,1156.4 L406.2,1145.2 L407.0,1143.1 L407.8,1143.1 L408.5,1130.1 L409.2,1140.3 L410.0,1135.2 L410.8,1160.9 L411.5,1140.5 L412.2,1136.3 L413.0,1136.4 L413.8,1133.8 L414.5,1131.4 L415.2,1135.6 L416.0,1141.0 L416.8,1136.6 L417.5,1144.1 L418.2,1136.9 L419.0,1138.4 L419.8,1147.8 L420.5,1141.7 L421.2,1135.3 L422.0,1137.4 L422.8,1141.9 L423.5,1150.5 L424.2,1137.2 L425.0,1137.5 L425.8,1145.1 L426.5,1133.8 L427.2,1137.6 L428.0,1144.7 L428.8,1143.0 L429.1,1244.0 L429.4,1143.0 L429.5,1140.3 L430.2,1143.8 L431.0,1123.3 L431.8,1146.2 L432.5,1134.7 L433.2,1130.7 L434.0,1142.3 L434.8,1144.9 L435.5,1138.4 L436.2,1134.9 L437.0,1141.5 L437.8,1141.2 L438.5,1149.8 L439.2,1146.1 L440.0,1143.1 L440.8,1148.5 L441.5,1141.2 L442.2,1137.4 L443.0,1146.2 L443.8,1146.5 L444.5,1142.3 L445.2,1139.4 L446.0,1145.4 L446.8,1130.5 L447.5,1148.6 L448.2,1147.9 L449.0,1136.4 L449.8,1146.2 L450.5,1140.9 L451.2,1150.7 L452.0,1135.8 L452.8,1142.3 L453.5,1151.5 L454.2,1154.3 L455.0,1136.7 L455.8,1145.9 L456.5,1150.7 L457.2,1145.9 L458.0,1157.9 L458.8,1143.3 L459.5,1151.8 L460.2,1144.5 L461.0,1157.6 L461.8,1150.3 L462.5,1148.6 L463.2,1141.8 L464.0,1159.7 L464.8,1155.0 L465.5,1155.1 L466.2,1157.3 L467.0,1153.4 L467.8,1148.4 L468.5,1147.8 L469.2,1148.0 L470.0,1159.2 L470.8,1145.0 L471.5,1149.5 L472.2,1151.0 L473.0,1153.9 L473.8,1155.8 L474.5,1146.9 L475.2,1144.6 L476.0,1153.3 L476.8,1159.5 L477.5,1157.4 L478.2,1154.8 L479.0,1152.3 L479.8,1155.4 L480.5,1153.0 L481.2,1158.2 L482.0,1150.5 L482.8,1155.1 L483.5,1154.1 L484.2,1157.3 L485.0,1155.9 L485.8,1167.0 L486.5,1162.1 L487.2,1162.1 L488.0,1145.6 L488.8,1153.7 L489.5,1152.5 L490.2,1157.9 L491.0,1144.9 L491.8,1161.0 L492.5,1160.5 L493.2,1149.7 L494.0,1151.3 L494.8,1152.1 L495.5,1156.0 L496.2,1158.8 L497.0,1165.1 L497.8,1155.1 L498.5,1159.4 L499.2,1156.7 L500.0,1163.8 L500.8,1159.3 L501.5,1162.0 L502.2,1151.3 L503.0,1155.2 L503.8,1152.5 L504.5,1162.6 L505.2,1158.9 L506.0,1154.8 L506.8,1154.2 L507.5,1158.2 L508.2,1153.2 L509.0,1152.2 L509.8,1158.2 L510.5,1166.5 L511.2,1155.2 L512.0,1153.9 L512.8,1151.3 L513.5,1150.7 L514.2,1158.4 L515.0,1159.7 L515.8,1156.3 L516.5,1157.6 L517.2,1156.7 L518.0,1156.8 L518.8,1150.2 L519.5,1154.5 L520.2,1156.8 L521.0,1153.2 L521.8,1154.4 L522.5,1153.1 L523.2,1155.0 L524.0,1159.8 L524.8,1154.8 L525.5,1155.8 L526.2,1159.6 L527.0,1159.0 L527.8,1163.2 L528.5,1148.1 L529.2,1159.8 L530.0,1154.5 L530.8,1157.0 L531.5,1159.8 L532.2,1160.8 L533.0,1160.6 L533.8,1157.1 L534.5,1162.9 L535.2,1155.4 L536.0,1155.9 L536.8,1159.7 L537.5,1154.3 L538.2,1165.1 L539.0,1160.6 L539.8,1165.2 L540.5,1156.4 L541.2,1155.0 L542.0,1157.2 L542.8,1159.5 L543.5,1154.2 L544.2,1158.1 L545.0,1156.5 L545.8,1163.0 L546.5,1154.0 L547.2,1160.7 L548.0,1154.0 L548.8,1152.8 L549.5,1153.8 L550.2,1151.9 L551.0,1157.2 L551.8,1160.7 L552.5,1157.3 L553.2,1159.1 L554.0,1163.1 L554.8,1157.7 L555.5,1157.4 L556.2,1155.6 L557.0,1150.3 L557.8,1159.7 L558.5,1149.7 L559.2,1159.2 L560.0,1156.6 L560.8,1161.1 L561.5,1156.4 L562.2,1153.4 L563.0,1158.1 L563.8,1154.5 L564.5,1156.0 L565.2,1156.8 L566.0,1156.1 L566.8,1155.9 L567.5,1153.4 L568.2,1155.9 L569.0,1148.2 L569.8,1156.1 L570.5,1152.0 L571.2,1161.1 L572.0,1161.7 L572.8,1149.0 L573.5,1157.3 L574.2,1156.2 L575.0,1152.6 L575.8,1158.8 L576.5,1154.9 L577.2,1149.7 L578.0,1155.6 L578.8,1156.1 L579.5,1157.1 L580.2,1151.9 L581.0,1159.1 L581.8,1159.6 L582.5,1152.2 L583.2,1154.1 L584.0,1156.4 L584.8,1154.5 L585.5,1163.6 L586.2,1157.5 L587.0,1152.7 L587.8,1153.6 L588.5,1156.5 L589.2,1165.7 L590.0,1156.0 L590.8,1157.2 L591.5,1158.7 L592.2,1156.5 L593.0,1165.6 L593.8,1154.6 L594.5,1159.6 L595.2,1157.3 L596.0,1159.1 L596.8,1152.1 L597.5,1163.6 L598.2,1156.2 L599.0,1156.8 L599.8,1153.0 L600.5,1153.8 L601.2,1158.9 L602.0,1160.5 L602.8,1159.6 L603.5,1161.3 L604.2,1159.4 L605.0,1156.6 L605.8,1159.7 L606.5,1158.7 L607.2,1156.0 L608.0,1159.1 L608.8,1161.2 L609.5,1157.0 L610.2,1154.7 L611.0,1158.8 L611.8,1163.3 L612.5,1155.0 L613.2,1155.3 L614.0,1155.1 L614.8,1160.3 L615.5,1148.2 L616.2,1156.7 L617.0,1159.8 L617.8,1151.9 L618.5,1160.8 L619.2,1157.0 L620.0,1152.7 L620.8,1155.5 L621.5,1148.6 L622.2,1152.3 L623.0,1161.5 L623.8,1150.8 L624.5,1161.3 L625.2,1153.7 L626.0,1157.8 L626.8,1153.9 L627.5,1144.9 L628.2,1151.3 L629.0,1154.1 L629.8,1148.7 L630.5,1147.8 L631.2,1154.3 L632.0,1150.2 L632.8,1146.0 L633.5,1149.8 L634.2,1155.6 L635.0,1150.2 L635.8,1155.5 L636.5,1157.7 L637.2,1151.7 L638.0,1147.0 L638.8,1146.2 L639.5,1150.9 L640.2,1154.3 L641.0,1151.7 L641.8,1152.6 L642.5,1148.5 L643.2,1151.1 L644.0,1147.9 L644.8,1148.2 L645.5,1144.2 L646.2,1142.9 L647.0,1146.8 L647.8,1144.2 L648.5,1144.5 L649.2,1150.5 L650.0,1147.2 L650.8,1158.6 L651.5,1150.7 L652.2,1144.4 L653.0,1149.6 L653.8,1147.8 L654.5,1143.5 L655.2,1150.2 L656.0,1142.7 L656.8,1133.7 L657.5,1148.3 L658.2,1142.6 L659.0,1150.4 L659.8,1141.9 L660.5,1139.6 L661.2,1149.8 L662.0,1139.5 L662.8,1144.2 L663.5,1148.7 L664.2,1143.4 L665.0,1142.4 L665.8,1142.9 L666.5,1145.6 L667.2,1139.1 L668.0,1144.5 L668.8,1144.3 L669.5,1151.0 L670.2,1140.7 L671.0,1138.5 L671.8,1144.9 L672.5,1140.5 L673.2,1143.2 L674.0,1142.7 L674.8,1146.7 L675.5,1139.8 L676.2,1142.0 L677.0,1132.7 L677.8,1139.2 L678.5,1148.6 L679.2,1140.2 L680.0,1140.3 L680.8,1138.6 L681.5,1146.0 L682.2,1145.1 L683.0,1140.6 L683.8,1148.6 L684.5,1147.9 L685.2,1150.8 L686.0,1146.4 L686.8,1156.4 L687.5,1152.1 L688.2,1150.9 L689.0,1150.2 L689.8,1152.2 L690.5,1157.3 L691.2,1153.9 L692.0,1159.9 L692.8,1158.9 L693.5,1162.8 L694.2,1161.9 L695.0,1159.7 L695.8,1154.0 L696.5,1163.6 L697.2,1166.6 L698.0,1165.2 L698.8,1167.5 L699.5,1164.1 L700.2,1164.6 L701.0,1162.5 L701.8,1171.4 L702.5,1166.9 L703.2,1164.5 L704.0,1161.3 L704.8,1165.9 L705.5,1172.0 L706.2,1168.3 L707.0,1163.9 L707.8,1172.1 L708.5,1172.1 L709.2,1170.5 L710.0,1169.8 L710.8,1171.2 L711.5,1168.9 L712.2,1169.8 L713.0,1163.9 L713.8,1172.6 L714.5,1167.8 L715.2,1174.6 L716.0,1159.2 L716.8,1169.7 L717.5,1170.7 L718.2,1165.7 L719.0,1168.7 L719.8,1169.8 L720.5,1169.2 L721.2,1164.9 L722.0,1166.4 L722.8,1170.8 L723.5,1171.8 L724.2,1167.3 L725.0,1167.2 L725.8,1167.6 L726.5,1170.7 L727.2,1162.8 L728.0,1161.7 L728.8,1167.1 L729.5,1162.4 L730.2,1164.3 L731.0,1166.8 L731.8,1168.2 L732.5,1162.3 L733.2,1169.3 L734.0,1159.5 L734.8,1168.2 L735.5,1160.1 L736.2,1161.2 L737.0,1168.4 L737.8,1164.3 L738.5,1162.8 L739.2,1164.1 L740.0,1167.4 L740.8,1165.4 L741.5,1165.4 L742.2,1169.4 L743.0,1162.7 L743.8,1163.6 L744.5,1163.3 L745.2,1169.6 L746.0,1168.9 L746.8,1170.0 L747.5,1165.0 L748.2,1164.5 L749.0,1168.2 L749.8,1163.5 L750.5,1168.1 L751.2,1167.7 L752.0,1162.3 L752.8,1164.6 L753.5,1164.4 L754.2,1171.4 L755.0,1174.6 L755.8,1164.4 L756.5,1164.8 L757.2,1156.2 L758.0,1165.5 L758.8,1164.7 L759.5,1160.7 L760.2,1167.6 L761.0,1158.8 L761.8,1163.8 L762.5,1165.1 L763.2,1159.9 L764.0,1167.8 L764.8,1168.5 L765.5,1159.3 L766.2,1159.2 L767.0,1166.7 L767.8,1164.4 L768.5,1159.9 L769.2,1163.3 L770.0,1164.0 L770.8,1163.9 L771.5,1167.5 L772.2,1165.8 L773.0,1171.0 L773.8,1169.5 L774.5,1166.8 L775.2,1168.3 L776.0,1169.2 L776.8,1166.9 L777.5,1159.7 L778.2,1167.4 L779.0,1164.5 L779.8,1170.2 L780.5,1164.5 L781.2,1166.1 L782.0,1165.4 L782.8,1170.4 L783.5,1164.8 L784.2,1163.1 L785.0,1165.3 L785.8,1162.5 L786.5,1164.7 L787.2,1164.1 L788.0,1165.1 L788.8,1171.2 L789.5,1162.5 L790.2,1164.2 L791.0,1163.3 L791.8,1166.5 L792.5,1159.6 L793.2,1161.5 L794.0,1163.9 L794.8,1166.0 L795.5,1163.8 L796.2,1162.2 L797.0,1160.8 L797.8,1165.9 L798.5,1169.4 L799.2,1165.2 L800.0,1164.7 L800.8,1165.6 L801.5,1160.5 L802.2,1162.8 L803.0,1163.0 L803.8,1165.1 L804.5,1163.9 L805.2,1159.5 L806.0,1168.2 L806.8,1170.3 L807.5,1163.0 L808.2,1165.5 L809.0,1165.0 L809.8,1166.9 L810.5,1158.5 L811.2,1170.0 L812.0,1162.3 L812.8,1168.7 L813.5,1164.3 L814.2,1162.6 L815.0,1163.5 L815.8,1167.3 L816.5,1160.8 L817.2,1162.6 L818.0,1162.2 L818.8,1157.7 L819.5,1168.8 L820.2,1166.1 L821.0,1163.9 L821.8,1168.3 L822.5,1160.5 L823.2,1163.7 L824.0,1170.4 L824.8,1167.6 L825.5,1155.8 L826.2,1151.7 L827.0,1160.2 L827.8,1167.9 L828.5,1162.3 L829.2,1163.2 L830.0,1166.2 L830.8,1160.7 L831.5,1164.8 L832.2,1166.9 L833.0,1165.7 L833.8,1165.5 L834.5,1161.8 L835.2,1165.9 L836.0,1162.4 L836.8,1168.8 L837.5,1173.4 L838.2,1161.3 L839.0,1156.0 L839.8,1162.4 L840.5,1165.4 L841.2,1167.8 L842.0,1168.0 L842.8,1161.1 L843.5,1161.1 L844.2,1168.6 L845.0,1160.0 L845.8,1168.0 L846.5,1163.2 L847.2,1166.8 L848.0,1166.6 L848.8,1166.8 L849.5,1167.0 L850.2,1160.4 L851.0,1165.1 L851.8,1164.1 L852.5,1165.1 L853.2,1168.5 L854.0,1163.0 L854.8,1161.4 L855.5,1161.3 L856.2,1162.9 L857.0,1166.7 L857.8,1161.0 L858.5,1168.2 L859.2,1165.1 L860.0,1163.2 L860.8,1159.1 L861.5,1164.9 L862.2,1166.5 L863.0,1157.6 L863.8,1168.3 L864.5,1170.0 L865.2,1165.2 L866.0,1165.8 L866.8,1172.8 L867.5,1168.5 L868.2,1160.7 L869.0,1163.9 L869.8,1163.4 L870.5,1163.5 L871.2,1155.4 L872.0,1166.8 L872.8,1161.7 L873.5,1164.6 L874.2,1163.5 L875.0,1167.2 L875.8,1162.9 L876.5,1161.1 L877.2,1165.9 L878.0,1169.1 L878.8,1162.8 L879.5,1169.0 L880.2,1165.0 L881.0,1162.1 L881.8,1169.5 L882.5,1161.0 L883.2,1167.7 L884.0,1162.2 L884.8,1165.6 L885.5,1159.5 L886.2,1161.0 L887.0,1167.9 L887.8,1164.7 L888.5,1164.1 L889.2,1162.4 L890.0,1165.6 L890.8,1159.0 L891.5,1160.0 L892.2,1163.4 L893.0,1161.0 L893.8,1161.5 L894.5,1163.7 L895.2,1163.5 L896.0,1163.2 L896.8,1170.0 L897.5,1167.6 L898.2,1168.4 L899.0,1163.9 L899.8,1162.2 L900.5,1158.8 L901.2,1162.7 L902.0,1156.5 L902.8,1161.9 L903.5,1166.7 L904.2,1169.7 L905.0,1167.3 L905.8,1160.7 L906.5,1165.5 L907.2,1160.8 L908.0,1166.6 L908.8,1163.2 L909.5,1166.6 L910.2,1172.6 L911.0,1166.6 L911.8,1171.6 L912.5,1163.8 L913.2,1161.8 L914.0,1167.7 L914.8,1169.0 L915.5,1160.7 L916.2,1162.9 L917.0,1157.3 L917.8,1161.6 L918.5,1165.4 L919.2,1161.8 L920.0,1159.9 L920.8,1156.8 L921.5,1163.0 L922.2,1164.4 L923.0,1163.5 L923.8,1162.2 L924.5,1156.6 L925.2,1167.3 L926.0,1160.6 L926.8,1160.2 L927.5,1163.2 L928.2,1152.6 L929.0,1160.0 L929.8,1159.6 L930.5,1161.2 L931.2,1164.6 L932.0,1161.3 L932.8,1152.9 L933.5,1158.1 L934.2,1159.9 L935.0,1159.5 L935.8,1154.3 L936.5,1152.8 L937.2,1160.5 L938.0,1159.6 L938.8,1158.2 L939.5,1151.9 L940.2,1164.3 L941.0,1147.5 L941.8,1156.3 L942.5,1164.9 L943.2,1156.6 L944.0,1157.8 L944.8,1152.6 L945.5,1161.3 L946.2,1151.7 L947.0,1156.9 L947.8,1156.2 L948.5,1151.8 L949.2,1158.4 L950.0,1150.0 L950.8,1152.3 L951.5,1154.4 L952.2,1152.9 L953.0,1155.8 L953.8,1157.2 L954.5,1152.7 L955.2,1151.6 L956.0,1151.6 L956.8,1152.0 L957.5,1156.0 L958.2,1152.3 L959.0,1154.5 L959.8,1152.7 L960.5,1150.0 L961.2,1156.1 L962.0,1149.5 L962.8,1153.4 L963.5,1158.9 L964.2,1150.0 L965.0,1154.0 L965.8,1148.9 L966.5,1153.0 L967.2,1149.9 L968.0,1154.4 L968.8,1154.2 L969.5,1157.0 L970.2,1162.6 L971.0,1158.4 L971.8,1160.2 L972.5,1158.2 L973.2,1157.9 L974.0,1156.3 L974.8,1153.3 L975.5,1160.3 L976.2,1166.2 L977.0,1162.5 L977.8,1159.3 L978.5,1167.3 L979.2,1160.2 L980.0,1159.8 L980.8,1157.9 L981.5,1159.0 L982.2,1161.8 L983.0,1169.9 L983.8,1162.3 L984.5,1159.6 L985.2,1161.3 L986.0,1162.9 L986.8,1157.9 L987.5,1164.5 L988.2,1166.7 L989.0,1165.6 L989.8,1166.7 L990.5,1160.3 L991.2,1159.0 L992.0,1169.6 L992.8,1169.1 L993.5,1160.0 L994.2,1166.2 L995.0,1165.7 L995.8,1167.6 L996.5,1166.5 L997.2,1164.1 L998.0,1166.6 L998.8,1166.5 L999.5,1165.8 L1000.2,1159.5 L1001.0,1155.5 L1001.8,1163.2 L1002.5,1160.3 L1003.2,1166.8 L1004.0,1168.4 L1004.8,1166.8 L1005.5,1164.5 L1006.2,1166.0 L1007.0,1169.8 L1007.8,1163.1 L1008.5,1168.8 L1009.2,1168.0 L1010.0,1166.3 L1010.8,1170.4 L1011.5,1162.8 L1012.2,1168.4 L1013.0,1161.8 L1013.8,1162.3 L1014.5,1161.2 L1015.2,1166.3 L1016.0,1161.4 L1016.8,1164.7 L1017.5,1160.5 L1018.2,1167.9 L1019.0,1170.5 L1019.8,1164.8 L1020.5,1169.5 L1021.2,1165.7 L1022.0,1171.1 L1022.8,1163.8 L1023.5,1157.9 L1024.2,1168.3 L1025.0,1162.6 L1025.8,1159.3 L1026.5,1160.5 L1027.2,1157.0 L1028.0,1161.9 L1028.8,1158.6 L1029.5,1167.2 L1030.2,1164.2 L1031.0,1156.2 L1031.8,1156.5 L1032.5,1159.6 L1033.2,1154.8 L1034.0,1160.8 L1034.8,1160.9 L1035.5,1158.3 L1036.2,1158.9 L1037.0,1162.3 L1037.8,1165.3 L1038.5,1165.4 L1039.2,1160.3 L1040.0,1162.9 L1040.8,1157.4 L1041.5,1161.1 L1042.2,1156.3 L1043.0,1161.9 L1043.8,1155.1 L1044.5,1155.9 L1045.2,1159.0 L1046.0,1160.7 L1046.8,1153.8 L1047.5,1156.7 L1048.2,1158.8 L1049.0,1159.0 L1049.8,1155.2 L1050.5,1158.2 L1051.2,1156.8 L1052.0,1162.2 L1052.8,1159.1 L1053.5,1152.7 L1054.2,1149.5 L1055.0,1157.0 L1055.8,1160.4 L1056.5,1156.8 L1057.2,1158.9 L1058.0,1154.1 L1058.8,1150.9 L1059.5,1157.7 L1060.2,1155.2 L1061.0,1156.9 L1061.8,1149.7 L1062.5,1154.5 L1063.2,1151.4 L1064.0,1155.7 L1064.8,1150.7 L1065.5,1150.1 L1066.2,1149.6 L1067.0,1155.2 L1067.8,1150.6 L1068.5,1147.4 L1069.2,1145.9 L1070.0,1145.2 L1070.8,1152.9 L1071.5,1141.4 L1072.2,1143.9 L1073.0,1148.1 L1073.8,1149.2 L1074.5,1144.2 L1075.2,1146.5 L1076.0,1145.7 L1076.8,1145.7 L1077.5,1141.9 L1078.2,1146.4 L1079.0,1140.9 L1079.8,1144.5 L1080.5,1135.2 L1081.2,1141.1 L1082.0,1133.2 L1082.8,1131.7 L1083.5,1137.5 L1084.2,1132.4 L1085.0,1135.8 L1085.8,1130.2 L1086.5,1138.2 L1087.2,1132.3 L1088.0,1127.9 L1088.8,1131.4 L1089.5,1132.9 L1090.2,1126.9 L1091.0,1130.3 L1091.8,1134.4 L1092.5,1129.9 L1093.2,1126.2 L1094.0,1123.6 L1094.8,1126.5 L1095.5,1118.8 L1096.2,1113.1 L1097.0,1119.7 L1097.8,1117.4 L1098.5,1125.5 L1099.2,1119.3 L1100.0,1114.6 L1100.8,1112.9 L1101.5,1116.9 L1102.2,1111.2 L1103.0,1110.5 L1103.8,1110.5 L1104.5,1109.4 L1105.2,1107.7 L1106.0,1106.0 L1106.8,1108.0 L1107.5,1107.4 L1108.2,1094.8 L1109.0,1106.6 L1109.8,1097.0 L1110.5,1098.8 L1111.2,1090.8 L1112.0,1092.6 L1112.8,1090.7 L1113.5,1088.9 L1114.2,1089.9 L1115.0,1087.9 L1115.8,1081.4 L1116.5,1083.1 L1117.2,1084.6 L1118.0,1083.4 L1118.8,1079.0 L1119.5,1078.1 L1120.2,1077.4 L1121.0,1073.3 L1121.8,1071.6 L1122.5,1079.8 L1123.2,1072.4 L1124.0,1072.9 L1124.8,1069.1 L1125.5,1074.6 L1126.2,1074.9 L1127.0,1067.3 L1127.8,1068.4 L1128.5,1063.0 L1129.2,1069.8 L1130.0,1065.7 L1130.8,1058.5 L1131.5,1063.6 L1132.2,1059.1 L1133.0,1057.5 L1133.8,1055.4 L1134.5,1050.2 L1135.2,1048.5 L1136.0,1050.2 L1136.8,1045.8 L1137.5,1040.7 L1138.2,1048.1 L1139.0,1038.4 L1139.8,1034.9 L1140.5,1032.0 L1141.2,1034.0 L1142.0,1032.4 L1142.8,1027.5 L1143.5,1027.0 L1144.2,1016.7 L1145.0,1017.7 L1145.8,1014.8 L1146.5,1013.8 L1147.2,1012.7 L1148.0,1001.7 L1148.8,1015.8 L1149.5,999.9 L1150.2,1001.0 L1151.0,999.6 L1151.8,996.7 L1152.5,991.5 L1153.2,978.0 L1154.0,980.7 L1154.8,983.4 L1155.5,974.4 L1156.2,970.3 L1157.0,962.2 L1157.8,969.9 L1158.5,963.3 L1159.2,954.3 L1160.0,952.3 L1160.8,947.8 L1161.5,939.7 L1162.2,937.7 L1163.0,934.7 L1163.8,930.9 L1164.5,928.4 L1165.2,919.7 L1166.0,913.4 L1166.8,911.7 L1167.5,903.6 L1168.2,896.7 L1169.0,899.6 L1169.8,889.6 L1170.5,886.5 L1171.2,883.5 L1172.0,873.4 L1172.8,875.1 L1173.5,870.9 L1174.2,865.9 L1175.0,864.5 L1175.8,857.9 L1176.5,850.4 L1177.2,854.2 L1178.0,849.7 L1178.8,853.2 L1179.5,848.9 L1180.2,844.0 L1181.0,843.6 L1181.8,845.7 L1182.5,842.6 L1183.2,837.7 L1184.0,835.5 L1184.8,830.7 L1185.5,828.7 L1186.2,828.6 L1187.0,823.8 L1187.8,822.8 L1188.5,815.7 L1189.2,811.4 L1190.0,808.9 L1190.8,810.6 L1191.5,814.0 L1192.2,811.1 L1193.0,801.3 L1193.8,796.9 L1194.5,802.2 L1195.2,798.5 L1196.0,789.8 L1196.8,795.3 L1197.5,789.8 L1198.2,791.1 L1199.0,785.2 L1199.8,784.4 L1200.5,779.9 L1201.2,772.9 L1202.0,772.5 L1202.8,768.2 L1203.5,770.3 L1204.2,761.1 L1205.0,756.2 L1205.8,760.4 L1206.5,758.6 L1207.2,756.2 L1208.0,751.5 L1208.8,739.2 L1209.5,738.1 L1210.2,734.8 L1211.0,732.5 L1211.8,721.2 L1212.5,724.1 L1213.2,720.6 L1214.0,711.9 L1214.8,710.5 L1215.5,708.6 L1216.2,699.0 L1217.0,696.4 L1217.8,690.0 L1218.5,681.8 L1219.2,675.6 L1220.0,667.2 L1220.8,667.0 L1221.5,656.0 L1222.2,650.2 L1223.0,650.0 L1223.8,640.4 L1224.5,639.5 L1225.2,636.9 L1226.0,628.7 L1226.8,623.9 L1227.5,621.9 L1228.2,616.7 L1229.0,604.3 L1229.8,600.3 L1230.5,604.1 L1231.2,595.5 L1232.0,581.0 L1232.8,576.4 L1233.5,572.7 L1234.2,560.1 L1235.0,555.4 L1235.8,544.4 L1236.5,536.3 L1237.2,521.9 L1238.0,520.1 L1238.8,517.6 L1239.5,501.7 L1240.2,502.4 L1241.0,494.7 L1241.8,486.6 L1242.5,476.5 L1243.2,464.0 L1244.0,453.9 L1244.8,446.6 L1245.5,433.9 L1246.2,421.6 L1247.0,409.1 L1247.8,399.6 L1248.5,388.2 L1249.2,379.9 L1250.0,379.5 L1250.3,289.0 L1250.6,379.5 L1250.8,375.0 L1251.5,367.1 L1252.2,353.5 L1253.0,347.3 L1253.8,333.6 L1254.5,328.0 L1255.2,312.8 L1256.0,305.0 L1256.8,296.4 L1257.5,284.8 L1258.2,278.2 L1259.0,260.3 L1259.8,249.4 L1260.5,254.7 L1261.2,251.7 L1262.0,247.7 L1262.8,239.8 L1263.5,236.7 L1264.2,231.6 L1265.0,223.2 L1265.8,222.2 L1266.5,222.3 L1267.2,214.8 L1268.0,219.3 L1268.8,203.1 L1269.5,202.3 L1270.2,203.1 L1271.0,192.8 L1271.8,186.9 L1272.5,182.5 L1273.2,180.8 L1274.0,184.5 L1274.8,177.4 L1275.5,175.4 L1276.2,171.0 L1277.0,176.1 L1277.8,174.7 L1278.5,172.9 L1279.2,176.7 L1280.0,181.6 L1280.8,187.9 L1281.5,186.8 L1282.2,192.0 L1283.0,200.5 L1283.8,194.3 L1284.5,196.8 L1285.2,209.2 L1286.0,212.5 L1286.8,216.3 L1287.5,223.4 L1288.2,227.3 L1289.0,236.2 L1289.8,239.1 L1290.5,249.0 L1291.2,248.4 L1292.0,255.9 L1292.8,265.6 L1293.5,270.2 L1294.2,280.9 L1295.0,285.2 L1295.8,290.4 L1296.5,300.0 L1297.2,304.5 L1298.0,308.1 L1298.8,316.8 L1299.5,325.4 L1300.2,334.2 L1301.0,344.0 L1301.8,355.0 L1302.5,362.1 L1303.2,375.3 L1304.0,383.0 L1304.8,387.7 L1305.5,404.1 L1306.2,412.6 L1307.0,417.1 L1307.8,429.7 L1308.5,442.2 L1309.2,448.6 L1310.0,460.7 L1310.8,467.8 L1311.5,478.0 L1312.2,483.6 L1313.0,495.0 L1313.8,501.3 L1314.5,513.7 L1315.2,514.2 L1316.0,529.9 L1316.8,541.7 L1317.5,547.9 L1318.2,554.1 L1319.0,564.3 L1319.8,567.4 L1320.5,575.4 L1321.2,585.0 L1322.0,593.5 L1322.8,605.0 L1323.5,605.9 L1324.2,619.7 L1325.0,617.4 L1325.8,626.5 L1326.5,635.0 L1327.2,644.7 L1328.0,643.9 L1328.8,643.7 L1329.5,657.9 L1330.2,661.6 L1331.0,663.4 L1331.8,669.3 L1332.5,676.7 L1333.2,686.2 L1334.0,695.4 L1334.8,695.4 L1335.5,716.3 L1336.2,716.0 L1337.0,722.6 L1337.8,734.0 L1338.5,739.7 L1339.2,755.5 L1340.0,759.0 L1340.8,761.0 L1341.5,766.8 L1342.2,771.8 L1343.0,777.3 L1343.8,785.5 L1344.5,785.3 L1345.2,797.4 L1346.0,795.5 L1346.8,799.3 L1347.5,807.2 L1348.2,801.1 L1349.0,809.0 L1349.8,818.8 L1350.5,821.2 L1351.2,825.6 L1352.0,831.4 L1352.8,832.3 L1353.5,838.1 L1354.2,838.0 L1355.0,840.1 L1355.8,854.9 L1356.5,850.6 L1357.2,854.6 L1358.0,865.3 L1358.8,867.2 L1359.5,864.7 L1360.2,867.6 L1361.0,872.0 L1361.8,871.7 L1362.5,879.8 L1363.2,881.0 L1364.0,883.5 L1364.8,888.2 L1365.5,890.5 L1366.2,896.8 L1367.0,898.0 L1367.8,888.7 L1368.5,900.2 L1369.2,895.1 L1370.0,896.1 L1370.8,905.7 L1371.5,902.6 L1372.2,905.9 L1373.0,912.7 L1373.8,908.3 L1374.5,909.2 L1375.2,915.2 L1376.0,920.0 L1376.8,919.1 L1377.5,913.1 L1378.2,917.8 L1379.0,921.0 L1379.8,929.9 L1380.5,927.8 L1381.2,929.1 L1382.0,931.9 L1382.8,928.0 L1383.5,932.3 L1384.2,933.8 L1385.0,929.9 L1385.8,934.7 L1386.5,938.0 L1387.2,933.2 L1388.0,941.0 L1388.8,941.8 L1389.5,943.6 L1390.2,937.8 L1391.0,941.4 L1391.8,946.6 L1392.5,944.4 L1393.2,938.8 L1394.0,942.4 L1394.8,946.6 L1395.5,941.1 L1396.2,942.6 L1397.0,950.3 L1397.8,940.8 L1398.5,940.3 L1399.2,936.8 L1400.0,937.8 L1400.8,945.1 L1401.5,939.0 L1402.2,934.9 L1403.0,935.4 L1403.8,938.4 L1404.5,940.8 L1405.2,935.0 L1406.0,939.8 L1406.8,935.1 L1407.5,937.7 L1408.2,937.8 L1409.0,937.7 L1409.8,933.6 L1410.5,934.1 L1411.2,936.1 L1412.0,929.2 L1412.8,934.1 L1413.5,934.9 L1414.2,936.4 L1415.0,932.1 L1415.8,931.1 L1416.5,931.8 L1417.2,928.2 L1418.0,929.6 L1418.8,931.3 L1419.5,930.4 L1420.2,925.0 L1421.0,927.1 L1421.8,920.1 L1422.5,930.0 L1423.2,924.6 L1424.0,926.8 L1424.8,921.3 L1425.5,924.3 L1426.2,925.5 L1427.0,926.7 L1427.8,917.4 L1428.5,924.6 L1429.2,920.1 L1430.0,917.1 L1430.8,920.7 L1431.5,917.0 L1432.2,915.9 L1433.0,913.3 L1433.8,915.3 L1434.5,913.3 L1435.2,911.0 L1436.0,906.5 L1436.8,906.4 L1437.5,907.9 L1438.2,909.2 L1439.0,902.5 L1439.8,905.7 L1440.5,898.4 L1441.2,892.3 L1442.0,896.4 L1442.8,888.3 L1443.5,891.0 L1444.2,891.1 L1445.0,883.8 L1445.8,882.3 L1446.5,889.2 L1447.2,878.8 L1448.0,876.5 L1448.8,876.0 L1449.5,870.4 L1450.2,868.0 L1451.0,867.1 L1451.8,854.3 L1452.5,865.4 L1453.2,853.4 L1454.0,850.3 L1454.8,852.9 L1455.5,847.5 L1456.2,839.1 L1457.0,840.4 L1457.8,831.2 L1458.5,828.1 L1459.2,819.2 L1460.0,814.6 L1460.8,811.3 L1461.5,801.8 L1462.2,793.7 L1463.0,787.0 L1463.8,774.6 L1464.5,763.7 L1465.2,757.0 L1466.0,756.6 L1466.8,743.9 L1467.5,738.7 L1468.2,731.0 L1469.0,726.0 L1469.8,720.0 L1470.5,711.1 L1471.2,702.3 L1472.0,690.3 L1472.8,678.1 L1473.5,669.2 L1474.2,656.3 L1475.0,643.2 L1475.8,627.3 L1476.5,613.1 L1477.2,608.1 L1478.0,596.9 L1478.8,575.8 L1479.5,567.8 L1480.2,549.5 L1481.0,537.6 L1481.8,513.8 L1482.5,501.1 L1483.2,497.9 L1484.0,477.7 L1484.8,471.4 L1485.5,461.2 L1486.2,454.8 L1487.0,447.6 L1487.8,450.5 L1488.5,452.0 L1489.2,447.4 L1490.0,445.3 L1490.8,440.8 L1491.5,446.5 L1492.2,443.1 L1493.0,449.8 L1493.8,448.4 L1494.5,463.2 L1495.2,461.6 L1496.0,469.4 L1496.8,470.6 L1497.5,467.8 L1498.2,475.9 L1499.0,486.9 L1499.8,499.7 L1500.5,515.5 L1501.2,525.0 L1502.0,541.0 L1502.8,555.0 L1503.5,575.4 L1504.2,595.5 L1505.0,608.0 L1505.8,620.4 L1506.5,629.6 L1507.2,648.4 L1508.0,658.5 L1508.8,664.8 L1509.5,678.3 L1510.2,696.8 L1511.0,708.4 L1511.8,731.9 L1512.5,740.4 L1513.2,751.5 L1514.0,768.9 L1514.8,792.0 L1515.5,797.9 L1516.2,819.8 L1517.0,834.6 L1517.8,854.3 L1518.5,865.9 L1519.2,876.0 L1520.0,891.5 L1520.8,901.0 L1521.5,914.9 L1522.2,921.1 L1523.0,938.2 L1523.8,939.6 L1524.5,950.5 L1525.2,954.9 L1526.0,966.2 L1526.8,973.9 L1527.5,982.2 L1528.2,992.4 L1529.0,994.2 L1529.8,1000.1 L1530.5,1014.1 L1531.2,1015.4 L1532.0,1020.5 L1532.8,1033.7 L1533.5,1038.6 L1534.2,1031.9 L1535.0,1046.3 L1535.8,1056.4 L1536.5,1062.0 L1537.2,1062.0 L1538.0,1074.4 L1538.8,1069.8 L1539.5,1076.0 L1540.2,1081.3 L1541.0,1084.7 L1541.8,1091.6 L1542.5,1096.1 L1543.2,1095.7 L1544.0,1104.5 L1544.8,1100.0 L1545.5,1104.8 L1546.2,1114.9 L1547.0,1111.5 L1547.8,1117.5 L1548.5,1114.0 L1549.2,1116.5 L1550.0,1118.7 L1550.8,1121.1 L1551.5,1120.6 L1552.2,1123.2 L1553.0,1126.9 L1553.8,1130.2 L1554.5,1127.2 L1555.2,1130.4 L1556.0,1132.4 L1556.8,1126.0 L1557.5,1125.1 L1558.2,1138.1 L1559.0,1137.9 L1559.8,1134.0 L1560.5,1135.9 L1561.2,1131.8 L1562.0,1130.9 L1562.8,1138.0 L1563.5,1131.9 L1564.2,1141.7 L1565.0,1136.2 L1565.8,1140.5 L1566.5,1147.3 L1567.2,1147.7 L1568.0,1139.9 L1568.8,1145.5 L1569.5,1137.9 L1570.2,1140.0 L1571.0,1144.1 L1571.8,1148.4 L1572.5,1141.2 L1573.2,1145.9 L1574.0,1144.5 L1574.8,1139.6 L1575.5,1144.3 L1576.2,1151.0 L1577.0,1145.1 L1577.8,1147.7 L1578.5,1149.3 L1579.2,1143.5 L1580.0,1151.5 L1580.8,1152.9 L1581.5,1153.5 L1582.2,1152.7 L1583.0,1145.9 L1583.8,1145.7 L1584.5,1145.2 L1585.2,1144.9 L1586.0,1145.6 L1586.8,1152.9 L1587.5,1155.0 L1588.2,1146.8 L1589.0,1152.8 L1589.8,1144.8 L1590.5,1148.7 L1591.2,1146.2 L1592.0,1143.9 L1592.8,1150.8 L1593.5,1151.0 L1594.2,1149.3 L1595.0,1149.0 L1595.8,1147.3 L1596.5,1150.8 L1597.2,1149.1 L1598.0,1152.7 L1598.8,1146.9 L1599.5,1152.9 L1600.2,1154.2 L1601.0,1157.3 L1601.8,1156.6 L1602.5,1153.3 L1603.2,1149.8 L1604.0,1145.2 L1604.8,1152.8 L1605.5,1158.7 L1606.2,1159.9 L1607.0,1142.7 L1607.8,1150.2 L1608.5,1151.9 L1609.2,1149.2 L1610.0,1154.4 L1610.8,1153.8 L1611.5,1151.6 L1612.2,1153.7 L1613.0,1147.4 L1613.8,1150.0 L1614.5,1150.4 L1615.2,1158.0 L1616.0,1147.5 L1616.8,1153.5 L1617.5,1157.7 L1618.2,1154.3 L1619.0,1158.1 L1619.8,1152.0 L1620.5,1156.6 L1621.2,1158.7 L1622.0,1164.4 L1622.8,1158.1 L1623.5,1161.2 L1624.2,1155.3 L1625.0,1155.7 L1625.8,1162.1 L1626.5,1158.0 L1627.2,1161.6 L1628.0,1158.7 L1628.8,1164.9 L1629.5,1166.1 L1630.2,1152.3 L1631.0,1164.1 L1631.8,1157.9 L1632.5,1158.2 L1633.2,1155.7 L1634.0,1159.5 L1634.8,1151.5 L1635.5,1153.2 L1636.2,1153.1 L1637.0,1157.9 L1637.8,1160.8 L1638.5,1160.0 L1639.2,1158.5 L1640.0,1154.2 L1640.8,1149.1 L1641.5,1158.8 L1642.2,1157.7 L1643.0,1158.8 L1643.8,1163.7 L1644.5,1156.5 L1645.2,1156.4 L1646.0,1146.9 L1646.8,1160.0 L1647.5,1157.3 L1648.2,1154.2 L1649.0,1159.5 L1649.8,1152.9 L1650.5,1155.3 L1651.2,1167.0 L1652.0,1161.4 L1652.8,1162.3 L1653.5,1161.6 L1654.2,1161.2 L1655.0,1159.2 L1655.8,1169.1 L1656.5,1158.1 L1657.2,1162.0 L1658.0,1157.5 L1658.8,1157.0 L1659.5,1147.2 L1660.2,1149.7 L1661.0,1166.3 L1661.8,1166.2 L1662.5,1157.1 L1663.2,1159.1 L1664.0,1162.4 L1664.8,1154.8 L1665.5,1168.3 L1666.2,1154.8 L1667.0,1156.5 L1667.8,1146.8 L1668.5,1167.7 L1669.2,1160.8 L1670.0,1168.6 L1670.8,1156.0 L1671.5,1162.7 L1672.2,1161.6 L1673.0,1162.4 L1673.8,1171.8 L1674.5,1173.0 L1675.2,1168.8 L1676.0,1160.1 L1676.8,1166.7 L1677.5,1169.2 L1678.2,1165.4 L1679.0,1165.6 L1679.8,1165.3 L1680.5,1158.5 L1681.2,1164.4 L1682.0,1171.4 L1682.8,1158.4 L1683.5,1164.0 L1684.2,1167.9 L1685.0,1156.8 L1685.8,1163.1 L1686.5,1155.2 L1687.2,1160.8 L1688.0,1156.8 L1688.8,1159.4 L1689.5,1161.5 L1690.2,1162.6 L1691.0,1163.0 L1691.8,1151.5 L1692.5,1172.3 L1693.2,1162.6 L1694.0,1158.3 L1694.8,1160.7 L1695.5,1165.6 L1696.2,1158.7 L1697.0,1161.8 L1697.8,1161.5 L1698.5,1166.8 L1699.2,1160.0 L1700.0,1166.4 L1700.8,1165.9 L1701.5,1163.2 L1702.2,1170.6 L1703.0,1164.1 L1703.8,1157.7 L1704.5,1165.6 L1705.2,1164.7 L1706.0,1163.8 L1706.8,1165.2 L1707.5,1176.6 L1708.2,1165.3 L1709.0,1166.5 L1709.8,1162.7 L1710.5,1171.0 L1711.2,1163.7 L1712.0,1159.7 L1712.8,1157.4 L1713.5,1166.8 L1714.2,1167.9 L1715.0,1155.3 L1715.8,1159.9 L1716.5,1167.3 L1717.2,1169.3 L1718.0,1156.6 L1718.8,1161.5 L1719.5,1168.1 L1720.2,1160.7 L1721.0,1161.0 L1721.8,1160.5 L1722.5,1156.2 L1723.2,1163.5 L1724.0,1164.9 L1724.8,1155.5 L1725.5,1163.6 L1726.2,1169.0 L1727.0,1164.0 L1727.8,1168.0 L1728.5,1159.7 L1729.2,1170.1 L1730.0,1158.2 L1730.8,1172.8 L1731.5,1159.8 L1732.2,1158.2 L1733.0,1157.1 L1733.8,1159.7 L1734.5,1159.1 L1735.2,1157.9 L1736.0,1159.8 L1736.8,1165.2 L1737.5,1166.3 L1738.2,1159.4 L1739.0,1168.0 L1739.8,1155.5 L1740.5,1155.2 L1741.2,1154.5 L1742.0,1164.0 L1742.8,1151.9 L1743.5,1152.6 L1744.2,1167.4 L1745.0,1169.7 L1745.8,1167.5 L1746.5,1151.5 L1747.2,1159.8 L1748.0,1164.3 L1748.8,1160.1 L1749.5,1150.3 L1750.2,1157.3 L1751.0,1149.6 L1751.8,1152.1 L1752.5,1171.0 L1753.2,1162.6 L1754.0,1150.3 L1754.8,1150.0 L1755.5,1161.0 L1756.2,1154.8 L1757.0,1161.5 L1757.8,1154.4 L1758.5,1156.8 L1759.2,1159.2 L1760.0,1151.8 L1760.8,1146.7 L1761.5,1150.7 L1762.2,1153.4 L1763.0,1156.1 L1763.8,1156.9 L1764.5,1156.7 L1765.2,1160.0 L1766.0,1151.8 L1766.8,1164.9 L1767.5,1168.3 L1768.2,1158.8 L1769.0,1157.7 L1769.8,1163.7 L1770.5,1160.2 L1771.2,1157.5 L1772.0,1155.4 L1772.8,1152.0 L1773.5,1149.5 L1774.2,1160.0 L1775.0,1163.0 L1775.8,1149.9 L1776.5,1155.6 L1777.2,1157.3 L1778.0,1153.5 L1778.8,1151.5 L1779.0,1226.0 L1779.3,1151.5 L1779.5,1153.6 L1780.2,1144.4 L1781.0,1155.6 L1781.8,1154.2 L1782.5,1168.3 L1783.2,1161.4 L1784.0,1153.9 L1784.8,1155.9 L1785.5,1166.0 L1786.2,1165.3 L1787.0,1157.0 L1787.8,1155.2 L1788.5,1147.4 L1789.2,1154.0 L1790.0,1154.9 L1790.8,1151.6 L1791.5,1166.2 L1792.2,1144.9 L1793.0,1155.2 L1793.8,1158.4 L1794.5,1158.6 L1795.2,1166.0 L1796.0,1147.7 L1796.8,1151.6 L1797.5,1156.6 L1798.2,1156.8 L1799.0,1153.7 L1799.8,1151.5 L1800.5,1162.5 L1801.2,1149.8 L1802.0,1152.7 L1802.8,1164.7 L1803.5,1166.5 L1804.2,1161.4 L1805.0,1151.0 L1805.8,1151.1 L1806.5,1150.8 L1807.2,1149.4 L1808.0,1153.7 L1808.8,1163.9 L1809.5,1157.6 L1810.2,1151.7 L1811.0,1151.6 L1811.8,1149.2 L1812.5,1163.6 L1813.2,1144.1 L1814.0,1158.0 L1814.8,1147.7 L1815.5,1150.0 L1816.2,1147.4 L1817.0,1162.3 L1817.8,1156.0 L1818.5,1173.2 L1819.2,1150.2 L1820.0,1149.9 L1820.8,1160.2 L1821.5,1160.0 L1822.2,1154.9 L1823.0,1144.3 L1823.8,1165.5 L1824.5,1160.2 L1825.2,1159.1 L1826.0,1153.1 L1826.8,1160.7 L1827.5,1153.3 L1828.2,1157.1 L1829.0,1155.6 L1829.8,1164.6 L1830.5,1154.0 L1831.2,1154.8 L1832.0,1163.7 L1832.8,1158.3 L1833.5,1156.8 L1834.2,1155.5 L1835.0,1162.9 L1835.8,1153.0 L1836.5,1160.0 L1837.2,1169.7 L1838.0,1159.6 L1838.8,1152.3 L1839.5,1149.7 L1840.2,1158.2 L1841.0,1149.6 L1841.8,1147.4 L1842.5,1152.6 L1843.2,1150.5 L1844.0,1162.9 L1844.8,1148.4 L1845.5,1167.4 L1846.2,1152.8 L1847.0,1158.3 L1847.8,1161.8 L1848.5,1159.0 L1849.2,1162.2 L1850.0,1151.5 L1850.8,1143.4 L1851.5,1156.5 L1852.2,1147.2 L1853.0,1154.2 L1853.8,1163.8 L1854.5,1156.7 L1855.2,1154.2 L1856.0,1150.9 L1856.8,1156.2 L1857.5,1157.0 L1858.2,1148.1 L1859.0,1160.0 L1859.8,1151.4 L1860.5,1159.6 L1861.2,1155.4 L1862.0,1164.6 L1862.8,1163.8 L1863.5,1158.5 L1864.2,1157.8 L1865.0,1161.3 L1865.8,1167.3 L1866.5,1165.4 L1867.2,1159.7 L1868.0,1160.8 L1868.8,1168.9 L1869.5,1148.6 L1870.2,1162.4 L1871.0,1153.4 L1871.8,1167.7 L1872.5,1156.1 L1873.2,1158.6 L1874.0,1152.5 L1874.8,1159.5 L1875.5,1164.5 L1876.2,1170.2 L1877.0,1151.6 L1877.8,1156.9 L1878.5,1184.6 L1879.2,1165.8 L1880.0,1159.9 L1880.8,1163.3 L1881.5,1143.1 L1882.2,1170.4 L1883.0,1161.2 L1883.8,1151.1 L1884.5,1167.8 L1885.2,1156.4 L1886.0,1153.9 L1886.8,1163.8 L1887.5,1163.1 L1888.2,1157.7 L1889.0,1160.2 L1889.8,1152.2 L1890.5,1151.6 L1891.2,1166.6 L1892.0,1169.3 L1892.8,1163.7 L1893.5,1163.4 L1894.2,1158.6 L1895.0,1160.3 L1895.8,1155.2 L1896.5,1172.5 L1897.2,1157.7 L1898.0,1164.0 L1898.8,1161.4 L1899.5,1152.6 L1900.2,1173.9 L1901.0,1159.2 L1901.8,1156.8 L1902.5,1162.5 L1903.2,1156.1 L1904.0,1162.0 L1904.8,1155.8 L1905.5,1165.6 L1906.2,1162.4 L1907.0,1153.3 L1907.8,1168.8 L1908.5,1163.5 L1909.2,1155.3 L1910.0,1164.7 L1910.8,1165.2 L1911.5,1174.5 L1912.2,1157.2 L1913.0,1168.3 L1913.8,1162.3 L1914.5,1167.0 L1915.2,1161.4 L1916.0,1162.9 L1916.8,1166.5 L1917.5,1155.8 L1918.2,1150.1 L1919.0,1163.7 L1919.8,1161.0 L1920.5,1164.6 L1921.2,1168.3 L1922.0,1162.9 L1922.8,1172.1 L1923.5,1164.3 L1924.2,1165.5 L1925.0,1170.2 L1925.8,1168.8 L1926.5,1164.6 L1927.2,1166.1 L1928.0,1160.6 L1928.8,1161.7 L1929.5,1166.5 L1930.2,1171.2 L1931.0,1163.3 L1931.8,1171.7 L1932.5,1178.9 L1933.2,1180.4 L1934.0,1166.9 L1934.8,1173.7 L1935.5,1171.0 L1936.2,1172.3 L1937.0,1172.7 L1937.8,1170.9 L1938.5,1173.0 L1939.2,1169.0 L1940.0,1166.3 L1940.8,1169.7 L1941.5,1171.4 L1942.2,1176.2 L1943.0,1170.9 L1943.8,1173.4 L1944.5,1177.9 L1945.2,1162.8 L1946.0,1167.3 L1946.8,1172.6 L1947.5,1169.3 L1948.2,1162.7 L1949.0,1175.8 L1949.8,1169.0 L1950.5,1163.1 L1951.2,1181.9 L1952.0,1161.4 L1952.8,1169.7 L1953.5,1165.5 L1954.2,1170.7 L1955.0,1173.7 L1955.8,1164.8 L1956.5,1169.5 L1957.2,1169.3 L1958.0,1163.7 L1958.8,1177.8 L1959.5,1171.4 L1960.2,1168.4 L1961.0,1166.0 L1961.8,1168.2 L1962.5,1171.3 L1963.2,1167.4 L1964.0,1178.5 L1964.8,1154.0 L1965.5,1156.6 L1966.2,1168.8 L1967.0,1158.6 L1967.8,1170.1 L1968.5,1166.3 L1969.2,1174.4 L1970.0,1173.3 L1970.8,1179.1 L1971.5,1176.6 L1972.2,1178.8 L1973.0,1174.2 L1973.8,1177.7 L1974.5,1174.0 L1975.2,1166.9 L1976.0,1162.7 L1976.8,1163.0 L1977.5,1174.0 L1978.2,1155.4 L1979.0,1172.0 L1979.8,1166.0 L1980.5,1175.7 L1981.2,1172.2 L1982.0,1166.1 L1982.8,1171.1 L1983.5,1156.2 L1984.2,1172.8 L1985.0,1174.1 L1985.8,1158.9 L1986.5,1176.9 L1987.2,1170.3 L1988.0,1172.3 L1988.8,1161.1 L1989.5,1175.5 L1990.2,1175.4 L1991.0,1171.1 L1991.8,1163.8 L1992.5,1177.1 L1993.2,1181.0 L1994.0,1174.5 L1994.8,1179.3 L1995.5,1166.6 L1996.2,1172.7 L1997.0,1174.6 L1997.8,1172.7 L1998.5,1195.5 L1999.2,1175.1 L2000.0,1166.8 L2000.8,1178.6 L2001.5,1162.3 L2002.2,1174.8 L2003.0,1178.2 L2003.8,1167.5 L2004.5,1169.0 L2005.2,1163.7 L2006.0,1172.9 L2006.8,1166.0 L2007.5,1186.6 L2008.2,1177.3 L2009.0,1169.9 L2009.8,1159.7 L2010.5,1189.2 L2011.2,1183.0 L2012.0,1175.9 L2012.8,1173.5 L2013.5,1173.3 L2014.2,1167.8 L2015.0,1187.9 L2015.8,1173.6 L2016.5,1159.5 L2017.2,1166.1 L2018.0,1149.6 L2018.8,1177.4 L2019.5,1178.2 L2020.2,1186.8 L2021.0,1189.6 L2021.8,1164.9 L2022.5,1175.4 L2023.2,1180.1 L2024.0,1178.3 L2024.8,1167.0 L2025.5,1178.3 L2026.2,1175.6 L2027.0,1183.0 L2027.8,1171.0 L2028.5,1169.1 L2029.2,1166.7 L2030.0,1167.8 L2030.8,1164.4 L2031.5,1168.0 L2032.2,1175.2 L2033.0,1174.8 L2033.8,1182.1 L2034.5,1180.1 L2035.2,1176.0 L2036.0,1160.6 L2036.8,1175.4 L2037.5,1180.5 L2038.2,1159.1 L2039.0,1160.6 L2039.8,1161.9 L2040.5,1161.1 L2041.2,1167.5 L2042.0,1161.9 L2042.8,1173.2 L2043.5,1159.3 L2044.2,1168.6 L2045.0,1165.3 L2045.8,1161.2 L2046.5,1178.5 L2047.2,1169.7 L2048.0,1174.1 L2048.8,1166.4 L2049.5,1175.4 L2050.2,1174.5 L2051.0,1167.8 L2051.8,1153.7 L2052.5,1176.2 L2053.2,1175.0 L2054.0,1170.5 L2054.8,1171.0 L2055.5,1169.9 L2056.2,1170.4 L2057.0,1160.0 L2057.8,1168.2 L2058.5,1171.4 L2059.2,1163.2 L2060.0,1160.1 L2060.8,1184.6 L2061.5,1173.7 L2062.2,1165.7 L2063.0,1164.0 L2063.8,1145.2 L2064.5,1155.8 L2065.2,1166.0 L2066.0,1179.3 L2066.8,1150.1 L2067.5,1161.8 L2068.2,1184.6 L2069.0,1173.7 L2069.8,1171.4 L2070.5,1178.2 L2071.2,1166.6 L2072.0,1166.0 L2072.8,1173.8 L2073.5,1174.9 L2074.2,1158.1 L2075.0,1180.7 L2075.8,1152.0 L2076.5,1161.1 L2077.2,1194.1 L2078.0,1162.6 L2078.8,1172.8 L2079.5,1158.2 L2080.2,1164.1 L2081.0,1160.5 L2081.8,1163.2 L2082.5,1172.4 L2083.2,1182.0 L2084.0,1174.2 L2084.8,1180.2 L2085.5,1162.0 L2086.2,1179.2 L2087.0,1171.2 L2087.8,1178.3 L2088.5,1162.5 L2089.2,1164.0 L2090.0,1178.0 L2090.8,1171.3 L2091.5,1166.8 L2092.2,1159.8 L2093.0,1164.8 L2093.8,1169.9 L2094.5,1171.9 L2095.2,1160.6 L2096.0,1162.4 L2096.8,1169.1 L2097.5,1155.5 L2098.2,1173.4 L2099.0,1165.0 L2099.8,1163.8 L2100.5,1143.5 L2101.2,1150.7 L2102.0,1155.5 L2102.8,1159.4 L2103.5,1154.8 L2104.2,1167.7 L2105.0,1165.6 L2105.8,1161.9 L2106.5,1146.2 L2107.2,1176.6 L2108.0,1161.7 L2108.8,1169.4 L2109.5,1158.2 L2110.2,1164.0 L2111.0,1170.2 L2111.8,1166.1 L2112.5,1172.5 L2113.2,1162.3 L2114.0,1181.6 L2114.8,1147.0 L2115.5,1158.9 L2116.2,1172.5 L2117.0,1161.5 L2117.8,1159.8 L2118.5,1147.9 L2119.2,1174.3 L2120.0,1146.7 L2120.8,1168.1 L2121.5,1165.3 L2122.2,1171.3 L2123.0,1176.5 L2123.8,1157.2 L2124.5,1156.2 L2125.2,1160.6 L2126.0,1148.0 L2126.8,1170.6 L2127.5,1159.7 L2128.2,1164.7 L2129.0,1153.1 L2129.8,1163.2 L2130.5,1157.6 L2131.2,1162.4 L2132.0,1153.3 L2132.8,1172.2 L2133.5,1157.2 L2134.2,1140.1 L2135.0,1168.7 L2135.8,1160.2 L2136.5,1154.9 L2137.2,1185.3 L2138.0,1162.3 L2138.8,1150.8 L2139.5,1157.3 L2140.2,1166.2 L2141.0,1160.7 L2141.8,1173.9 L2142.5,1172.2 L2143.2,1155.6 L2144.0,1163.0 L2144.8,1168.4 L2145.5,1158.9 L2146.2,1158.5 L2147.0,1170.5 L2147.8,1166.7 L2148.5,1150.0 L2149.2,1157.7 L2150.0,1158.9" fill="none" stroke="#ff0000" stroke-width="3.1" stroke-linejoin="round"/>
<rect x="336.5" y="67.5" width="1815.5" height="1307.5" fill="none" stroke="#1a1a1a" stroke-width="3"/>
<line x1="315.5" y1="1312.7" x2="336.5" y2="1312.7" stroke="#1a1a1a" stroke-width="3"/>
<line x1="315.5" y1="1063.7" x2="336.5" y2="1063.7" stroke="#1a1a1a" stroke-width="3"/>
<line x1="315.5" y1="814.6" x2="336.5" y2="814.6" stroke="#1a1a1a" stroke-width="3"/>
<line x1="315.5" y1="565.6" x2="336.5" y2="565.6" stroke="#1a1a1a" stroke-width="3"/>
<line x1="315.5" y1="316.5" x2="336.5" y2="316.5" stroke="#1a1a1a" stroke-width="3"/>
<line x1="315.5" y1="67.5" x2="336.5" y2="67.5" stroke="#1a1a1a" stroke-width="3"/>
<line x1="336.5" y1="1375" x2="336.5" y2="1394.5" stroke="#1a1a1a" stroke-width="3"/>
<line x1="699.6" y1="1375" x2="699.6" y2="1394.5" stroke="#1a1a1a" stroke-width="3"/>
<line x1="1062.7" y1="1375" x2="1062.7" y2="1394.5" stroke="#1a1a1a" stroke-width="3"/>
<line x1="1425.8" y1="1375" x2="1425.8" y2="1394.5" stroke="#1a1a1a" stroke-width="3"/>
<line x1="1788.9" y1="1375" x2="1788.9" y2="1394.5" stroke="#1a1a1a" stroke-width="3"/>
<line x1="2152.0" y1="1375" x2="2152.0" y2="1394.5" stroke="#1a1a1a" stroke-width="3"/>
<text x="287.7" y="1332.2" text-anchor="end" font-size="62" font-family="Liberation Serif, Times New Roman, serif">0</text>
<text x="287.7" y="1083.2" text-anchor="end" font-size="62" font-family="Liberation Serif, Times New Roman, serif">2000</text>
<text x="287.7" y="834.1" text-anchor="end" font-size="62" font-family="Liberation Serif, Times New Roman, serif">4000</text>
<text x="287.7" y="585.1" text-anchor="end" font-size="62" font-family="Liberation Serif, Times New Roman, serif">6000</text>
<text x="287.7" y="336.0" text-anchor="end" font-size="62" font-family="Liberation Serif, Times New Roman, serif">8000</text>
<text x="136.1 161.7 193.0 206.9 237.6 268.2" y="83.3" font-size="62" font-family="Liberation Serif, Times New Roman, serif">10,000</text>
<text x="337" y="1479.5" text-anchor="middle" font-size="62" font-family="Liberation Serif, Times New Roman, serif">0</text>
<text x="699.9" y="1479.5" text-anchor="middle" font-size="62" font-family="Liberation Serif, Times New Roman, serif">500</text>
<text x="1064.5" y="1479.5" text-anchor="middle" font-size="62" font-family="Liberation Serif, Times New Roman, serif">1000</text>
<text x="1426.6" y="1479.5" text-anchor="middle" font-size="62" font-family="Liberation Serif, Times New Roman, serif">1500</text>
<text x="1788.2" y="1479.5" text-anchor="middle" font-size="62" font-family="Liberation Serif, Times New Roman, serif">2000</text>
<text x="2152.2" y="1479.5" text-anchor="middle" font-size="62" font-family="Liberation Serif, Times New Roman, serif">2500</text>
<text y="1607" font-size="72" font-family="Liberation Serif, Times New Roman, serif"><tspan x="958.7 1027.6 1059.9 1092.1 1122.8 1160.7 1193.2 1245.9 1283.8 1315.0 1338.9 1356.8 1381.4 1414.9">Wavenumber (cm</tspan><tspan x="1468.5" y="1579.5" font-size="48">-</tspan><tspan x="1486.3" y="1577.8" font-size="41.5">1</tspan><tspan x="1507.4" y="1607">)</tspan></text>
<text transform="translate(72.5,926.0) rotate(-90)" x="-0.5 24.2 58.4 77.7 107.3 142.7 174.7 190.1 208.2 244.2 260.6 283.9 315.7 337.0 369.0 386.9" y="0" font-size="72" font-family="Liberation Serif, Times New Roman, serif">Intensity (a.u.)</text>
<line x1="410.5" y1="203" x2="551" y2="203" stroke="#1a1a1a" stroke-width="3.2"/>
<text y="223" font-size="62" font-family="Liberation Serif, Times New Roman, serif"><tspan x="583.9" font-size="64">C</tspan><tspan x="621.3" y="233.3" font-size="86" fill="#111">−</tspan><tspan x="671.9" y="223" font-size="64">C</tspan><tspan x="714.5 759.3 772.7 792.4 824.1 848.7" y="223">D (4h)</tspan></text>
<line x1="410.5" y1="283.5" x2="551" y2="283.5" stroke="#0000ff" stroke-width="5.2"/>
<text y="304" font-size="62" font-family="Liberation Serif, Times New Roman, serif"><tspan x="583.9" font-size="64">C</tspan><tspan x="621.3" y="312.0" font-size="86" fill="#000" stroke="#000" stroke-width="1.0">−</tspan><tspan x="671.9" y="304" font-size="64">C</tspan><tspan x="714.5 759.3 772.7 792.0 824.1 848.7" y="304">D (6h)</tspan></text>
<line x1="410.5" y1="363.8" x2="551" y2="363.8" stroke="#ff1a1a" stroke-width="3.4"/>
<text y="383" font-size="62" font-family="Liberation Serif, Times New Roman, serif"><tspan x="583.9" font-size="64">C</tspan><tspan x="621.3" y="394.6" font-size="86" fill="#333">−</tspan><tspan x="671.9" y="383" font-size="64">C</tspan><tspan x="714.5 759.3 772.7 793.3 824.1 848.7" y="383">D (8h)</tspan></text>
<text x="1196.3" y="165.7" font-size="62" font-family="Liberation Serif, Times New Roman, serif">D</text>
<text x="1485.1" y="370.1" font-size="62" font-family="Liberation Serif, Times New Roman, serif">G</text></svg>
</body></html>
